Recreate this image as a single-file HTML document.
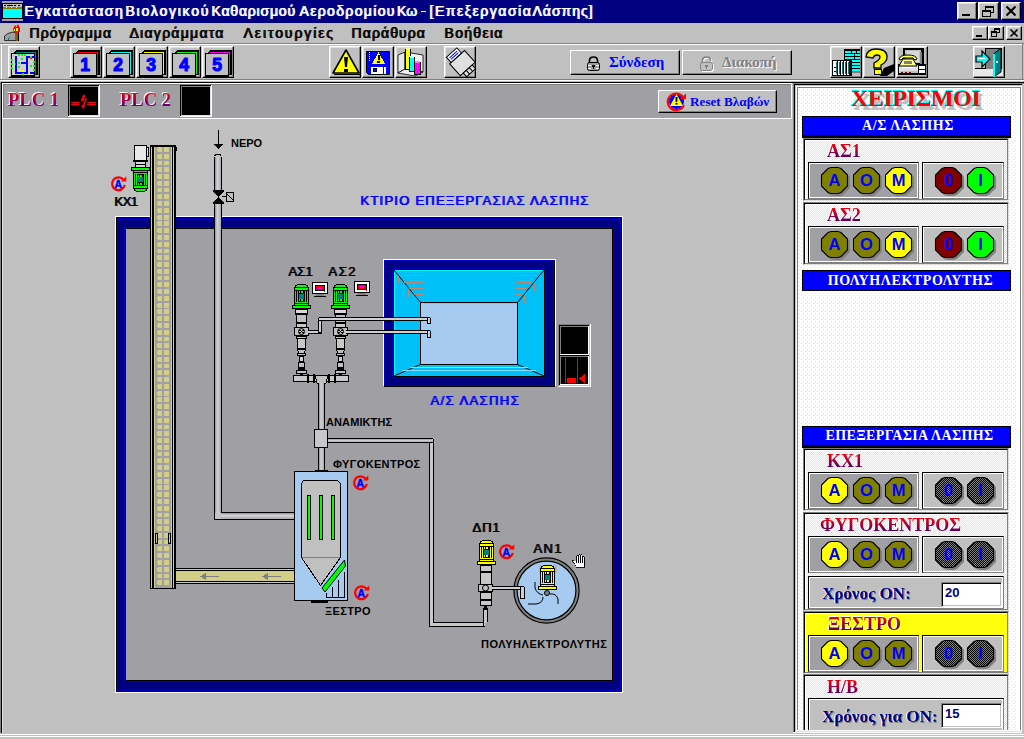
<!DOCTYPE html>
<html><head><meta charset="utf-8"><style>
*{margin:0;padding:0;box-sizing:border-box}
html,body{width:1024px;height:739px;overflow:hidden;background:#c0c0c0;font-family:"Liberation Sans",sans-serif;position:relative}
.a{position:absolute}
svg{position:absolute;overflow:visible}
.cap{position:absolute;background:#c0c0c0;border:1px solid;border-color:#fff #000 #000 #fff;box-shadow:inset -1px -1px #808080,inset 1px 1px #dfdfdf}
.tb{position:absolute;top:46px;width:32px;height:32px;background:#c0c0c0;border:1px solid;border-color:#fff #000 #000 #fff;box-shadow:inset -1px -1px #808080,inset 1px 1px #dfdfdf}
.mi{position:absolute;top:25px;font-size:14px;line-height:16px;color:#000;text-shadow:1px 0 0 #000;white-space:nowrap}
.yd{background-color:#fff;background-image:conic-gradient(at 1px 1px,transparent 75%,#ff0 75%),conic-gradient(at 1px 1px,transparent 75%,#ff0 75%);background-size:4px 4px,4px 4px;background-position:0 0,2px 2px}
.yb{background-color:#fff;background-image:conic-gradient(at 1px 1px,transparent 75%,#ff0 75%),conic-gradient(at 1px 1px,transparent 75%,#ff0 75%);background-size:2px 2px,2px 2px;background-position:0 0,1px 1px}
.hdr{position:absolute;left:802px;width:209px;background:#0000ff;border:1px solid #000;color:#fff;font-family:"Liberation Serif",serif;font-weight:bold;font-size:14px;text-align:center;white-space:nowrap}
.gb{position:absolute;left:803px;width:206px;border:1px solid;border-color:#808080 #dfdfdf #dfdfdf #808080}
.gbi{position:absolute;left:0;top:0;right:0;bottom:0;border:1px solid;border-color:#000 #808080 #808080 #000;box-shadow:inset 1px 1px #fff}
.bx{position:absolute;border:1px solid;border-color:#000 #808080 #808080 #000;box-shadow:inset 1px 1px #fff,inset -1px -1px #fff}
.lbl{position:absolute;font-family:"Liberation Serif",serif;font-weight:bold;font-size:18px;line-height:20px;white-space:nowrap;color:transparent;background:linear-gradient(#ff0000 0%,#d00020 32%,#800050 62%,#300060 100%);-webkit-background-clip:text;background-clip:text;filter:drop-shadow(-1px -1px 0 #fff)}
.ntx{position:absolute;font-family:"Liberation Serif",serif;font-weight:bold;font-size:17px;line-height:20px;color:#000080;white-space:nowrap;text-shadow:-1px 0 0 #fff,1px 1px 0 #808080}
.tbox{position:absolute;background:#fff;border:1px solid;border-color:#808080 #fff #fff #808080;box-shadow:inset 1px 1px #000,inset -1px -1px #c0c0c0;font-weight:bold;font-size:13px;color:#000080;padding-left:3px;line-height:20px}
.dt{position:absolute;font-size:11px;font-weight:bold;color:#000;white-space:nowrap;line-height:12px}
</style></head><body>
<div class="a" style="left:0;top:0;width:1024px;height:23px;background:#000080"></div><svg class="a" style="left:2px;top:1px" width="21" height="21" viewBox="0 0 21 21" shape-rendering="crispEdges" ><rect x="0" y="0" width="21" height="2" fill="#a0a0a0" /><rect x="0" y="2" width="21" height="16" fill="#000" /><rect x="1" y="3" width="19" height="3" fill="#c0c0c0" /><rect x="2" y="4" width="2" height="1" fill="#000" /><rect x="5" y="4" width="6" height="1" fill="#000" /><rect x="12" y="4" width="2" height="1" fill="#000" /><rect x="16" y="4" width="2" height="1" fill="#000" /><rect x="1" y="6" width="19" height="2" fill="#808000" /><rect x="4" y="6" width="1" height="1" fill="#ff0" /><rect x="9" y="6" width="1" height="1" fill="#ff0" /><rect x="14" y="6" width="1" height="1" fill="#ff0" /><rect x="1" y="8" width="19" height="9" fill="#00ffff" /><rect x="0" y="18" width="21" height="2" fill="#a0a0a0" /></svg><div class="a" style="left:24px;top:3px;font-size:14px;letter-spacing:1.5px;color:#fff;text-shadow:1px 0 0 #fff;white-space:nowrap;line-height:16px">Εγκατάσταση</div><div class="a" style="left:125px;top:3px;font-size:14px;letter-spacing:1.78px;color:#fff;text-shadow:1px 0 0 #fff;white-space:nowrap;line-height:16px">Βιολογικού</div><div class="a" style="left:211px;top:3px;font-size:14px;letter-spacing:0.8px;color:#fff;text-shadow:1px 0 0 #fff;white-space:nowrap;line-height:16px">Καθαρισμού</div><div class="a" style="left:299px;top:3px;font-size:14px;letter-spacing:1.35px;color:#fff;text-shadow:1px 0 0 #fff;white-space:nowrap;line-height:16px">Αεροδρομίου</div><div class="a" style="left:396.5px;top:3px;font-size:14px;letter-spacing:0.2px;color:#fff;text-shadow:1px 0 0 #fff;white-space:nowrap;line-height:16px">Κω</div><div class="a" style="left:429px;top:3px;font-size:14px;letter-spacing:1.52px;color:#fff;text-shadow:1px 0 0 #fff;white-space:nowrap;line-height:16px">[Επεξεργασία</div><div class="a" style="left:532px;top:3px;font-size:14px;letter-spacing:1.0px;color:#fff;text-shadow:1px 0 0 #fff;white-space:nowrap;line-height:16px">Λάσπης]</div><div class="a" style="left:421px;top:11px;width:5px;height:1px;background:#fff"></div><div class="cap" style="left:957px;top:2px;width:20px;height:18px"></div><div class="cap" style="left:978px;top:2px;width:21px;height:18px"></div><div class="cap" style="left:1001px;top:2px;width:20px;height:18px"></div><svg class="a" style="left:957px;top:2px" width="21" height="19" viewBox="0 0 21 19" shape-rendering="crispEdges" ><rect x="5" y="12" width="8" height="2" fill="#000" /></svg><svg class="a" style="left:978px;top:2px" width="22" height="19" viewBox="0 0 22 19" shape-rendering="crispEdges" ><rect x="7" y="4" width="9" height="7" fill="#000" /><rect x="8" y="6" width="7" height="4" fill="#c0c0c0" /><rect x="4" y="8" width="9" height="7" fill="#000" /><rect x="5" y="10" width="7" height="4" fill="#c0c0c0" /></svg><svg class="a" style="left:1001px;top:2px" width="21" height="19" viewBox="0 0 21 19" shape-rendering="crispEdges" ><path d="M5.5,4.5 L14.5,13.5 M14.5,4.5 L5.5,13.5" stroke="#000" stroke-width="2" shape-rendering="auto"/></svg><div class="mi" style="left:29px;letter-spacing:1.05px">Πρόγραμμα</div><div class="mi" style="left:129px;letter-spacing:1.27px">Διαγράμματα</div><div class="mi" style="left:243px;letter-spacing:1.9px">Λειτουργίες</div><div class="mi" style="left:351px;letter-spacing:1.1px">Παράθυρα</div><div class="mi" style="left:444px;letter-spacing:1.3px">Βοήθεια</div><svg class="a" style="left:4px;top:24px" width="17" height="17" viewBox="0 0 17 17" shape-rendering="crispEdges" ><path d="M0.5,15.5 L0.5,12 L4,9.5 L9,8 L12,9 L12,16.5 L0.5,16.5 Z" fill="#a0a0a0" stroke="#202020" stroke-width="0.9" shape-rendering="auto"/><rect x="4" y="14" width="1" height="2" fill="#008080" /><rect x="5" y="13" width="1" height="1" fill="#008080" /><rect x="12" y="6" width="2" height="11" fill="#806000" /><rect x="14" y="6" width="1" height="11" fill="#000" /><path d="M9,5 L11,1 L12.5,3 L14,0 L16,4 L16,8 L13,9 L10,8 Z" fill="#ff0000" shape-rendering="auto"/><rect x="12" y="4" width="2" height="3" fill="#ffff00" /><rect x="10" y="5" width="1" height="2" fill="#ffff00" /></svg><div class="cap" style="left:972px;top:26px;width:16px;height:14px"></div><div class="cap" style="left:988px;top:26px;width:16px;height:14px"></div><div class="cap" style="left:1006px;top:26px;width:16px;height:14px"></div><svg class="a" style="left:972px;top:26px" width="16" height="14" viewBox="0 0 16 14" shape-rendering="crispEdges" ><rect x="4" y="9" width="6" height="2" fill="#000" /></svg><svg class="a" style="left:988px;top:26px" width="17" height="14" viewBox="0 0 17 14" shape-rendering="crispEdges" ><rect x="6" y="2" width="6" height="5" fill="#000" /><rect x="7" y="4" width="4" height="2" fill="#c0c0c0" /><rect x="3" y="5" width="6" height="6" fill="#000" /><rect x="4" y="7" width="4" height="3" fill="#c0c0c0" /></svg><svg class="a" style="left:1006px;top:26px" width="16" height="14" viewBox="0 0 16 14" shape-rendering="crispEdges" ><path d="M4.5,3.5 L11.5,10.5 M11.5,3.5 L4.5,10.5" stroke="#000" stroke-width="1.6" shape-rendering="auto"/></svg><div class="a" style="left:0;top:43px;width:1024px;height:1px;background:#808080"></div><div class="a" style="left:0;top:44px;width:1023px;height:1px;background:#fff"></div><div class="a" style="left:0;top:79px;width:1024px;height:1px;background:#808080"></div><div class="a" style="left:0;top:80px;width:1024px;height:1px;background:#fff"></div><div class="tb" style="left:8px"></div><div class="tb" style="left:70px"></div><div class="tb" style="left:103px"></div><div class="tb" style="left:136px"></div><div class="tb" style="left:169px"></div><div class="tb" style="left:202px"></div><div class="tb" style="left:329px"></div><div class="tb" style="left:362px"></div><div class="tb" style="left:395px"></div><div class="tb" style="left:444px"></div><div class="tb" style="left:830px"></div><div class="tb" style="left:863px"></div><div class="tb" style="left:896px"></div><div class="tb" style="left:973px"></div><div class="a" style="left:570px;top:50px;width:110px;height:25px;background:#c0c0c0;border:1px solid;border-color:#fff #000 #000 #fff;box-shadow:inset -1px -1px #808080"></div><div class="a" style="left:682px;top:50px;width:110px;height:25px;background:#c0c0c0;border:1px solid;border-color:#fff #000 #000 #fff;box-shadow:inset -1px -1px #808080"></div><div class="a" style="left:609px;top:52px;font-family:Liberation Serif;font-weight:bold;font-size:15px;line-height:20px;color:#0000ff">Σύνδεση</div><div class="a" style="left:722px;top:52px;font-family:Liberation Serif;font-weight:bold;font-size:15px;line-height:20px;color:#808080;text-shadow:1px 1px 0 #fff">Διακοπή</div><svg class="a" style="left:70px;top:46px" width="32" height="32" viewBox="0 0 32 32" shape-rendering="crispEdges" ><path d="M8,4 L30,4 L30,29 L6,29 L6,6 Z" fill="#000"/><rect x="8" y="6" width="20" height="1" fill="#ff0000" /><rect x="27" y="6" width="1" height="22" fill="#ff0000" /><rect x="3" y="7" width="24" height="24" fill="#000" /><rect x="4" y="8" width="22" height="21" fill="#c0c0c0" /><text x="15" y="25" text-anchor="middle" font-family="Liberation Sans" font-weight="bold" font-size="17.5" fill="#0000ff" stroke="#0000ff" stroke-width="1.1" stroke-linejoin="round" shape-rendering="auto">1</text></svg><svg class="a" style="left:103px;top:46px" width="32" height="32" viewBox="0 0 32 32" shape-rendering="crispEdges" ><path d="M8,4 L30,4 L30,29 L6,29 L6,6 Z" fill="#000"/><rect x="8" y="6" width="20" height="1" fill="#00ffff" /><rect x="27" y="6" width="1" height="22" fill="#00ffff" /><rect x="3" y="7" width="24" height="24" fill="#000" /><rect x="4" y="8" width="22" height="21" fill="#c0c0c0" /><text x="15" y="25" text-anchor="middle" font-family="Liberation Sans" font-weight="bold" font-size="17.5" fill="#0000ff" stroke="#0000ff" stroke-width="1.1" stroke-linejoin="round" shape-rendering="auto">2</text></svg><svg class="a" style="left:136px;top:46px" width="32" height="32" viewBox="0 0 32 32" shape-rendering="crispEdges" ><path d="M8,4 L30,4 L30,29 L6,29 L6,6 Z" fill="#000"/><rect x="8" y="6" width="20" height="1" fill="#ffff00" /><rect x="27" y="6" width="1" height="22" fill="#ffff00" /><rect x="3" y="7" width="24" height="24" fill="#000" /><rect x="4" y="8" width="22" height="21" fill="#c0c0c0" /><text x="15" y="25" text-anchor="middle" font-family="Liberation Sans" font-weight="bold" font-size="17.5" fill="#0000ff" stroke="#0000ff" stroke-width="1.1" stroke-linejoin="round" shape-rendering="auto">3</text></svg><svg class="a" style="left:169px;top:46px" width="32" height="32" viewBox="0 0 32 32" shape-rendering="crispEdges" ><path d="M8,4 L30,4 L30,29 L6,29 L6,6 Z" fill="#000"/><rect x="8" y="6" width="20" height="1" fill="#00ff00" /><rect x="27" y="6" width="1" height="22" fill="#00ff00" /><rect x="3" y="7" width="24" height="24" fill="#000" /><rect x="4" y="8" width="22" height="21" fill="#c0c0c0" /><text x="15" y="25" text-anchor="middle" font-family="Liberation Sans" font-weight="bold" font-size="17.5" fill="#0000ff" stroke="#0000ff" stroke-width="1.1" stroke-linejoin="round" shape-rendering="auto">4</text></svg><svg class="a" style="left:202px;top:46px" width="32" height="32" viewBox="0 0 32 32" shape-rendering="crispEdges" ><path d="M8,4 L30,4 L30,29 L6,29 L6,6 Z" fill="#000"/><rect x="8" y="6" width="20" height="1" fill="#ff00ff" /><rect x="27" y="6" width="1" height="22" fill="#ff00ff" /><rect x="3" y="7" width="24" height="24" fill="#000" /><rect x="4" y="8" width="22" height="21" fill="#c0c0c0" /><text x="15" y="25" text-anchor="middle" font-family="Liberation Sans" font-weight="bold" font-size="17.5" fill="#0000ff" stroke="#0000ff" stroke-width="1.1" stroke-linejoin="round" shape-rendering="auto">5</text></svg><svg class="a" style="left:8px;top:46px" width="32" height="32" viewBox="0 0 32 32" shape-rendering="crispEdges" ><path d="M8,4 L30,4 L30,29 L6,29 L6,6 Z" fill="#000"/><rect x="8" y="6" width="20" height="1" fill="#008080" /><rect x="27" y="6" width="1" height="22" fill="#008080" /><rect x="3" y="7" width="24" height="24" fill="#000" /><rect x="4" y="8" width="22" height="21" fill="#c0c0c0" /><rect x="4" y="8" width="22" height="21" fill="#d0d0d0" /><rect x="7" y="10" width="2" height="18" fill="#0000ff" /><rect x="7" y="26" width="12" height="2" fill="#0000ff" /><rect x="18" y="10" width="2" height="18" fill="#0000ff" /><rect x="18" y="10" width="9" height="2" fill="#0000ff" /><rect x="13" y="16" width="5" height="2" fill="#0000ff" /><rect x="22" y="26" width="4" height="2" fill="#0000ff" /><rect x="10" y="8" width="2" height="2" fill="#00ff00" /><rect x="13" y="8" width="2" height="2" fill="#00ff00" /><rect x="16" y="8" width="2" height="2" fill="#00ff00" /><rect x="13" y="12" width="2" height="2" fill="#00ff00" /><rect x="10" y="16" width="2" height="2" fill="#00ff00" /><rect x="10" y="20" width="2" height="2" fill="#00ff00" /><rect x="22" y="19" width="2" height="2" fill="#00ff00" /><rect x="25" y="15" width="2" height="2" fill="#00ff00" /><rect x="25" y="19" width="2" height="2" fill="#00ff00" /><rect x="25" y="23" width="2" height="2" fill="#00ff00" /><rect x="22" y="10" width="2" height="2" fill="#00ff00" /><rect x="3" y="13" width="2" height="2" fill="#00ff00" /><rect x="3" y="17" width="2" height="2" fill="#00ff00" /><rect x="3" y="21" width="2" height="2" fill="#00ff00" /><rect x="14" y="27" width="2" height="2" fill="#00ff00" /><rect x="11" y="24" width="2" height="2" fill="#ffff00" /><rect x="14" y="24" width="2" height="2" fill="#ffff00" /><rect x="20" y="27" width="2" height="2" fill="#ffff00" /><rect x="22" y="12" width="2" height="1" fill="#ff0000" /><rect x="7" y="17" width="1" height="2" fill="#ff0000" /><rect x="14" y="29" width="2" height="1" fill="#ff0000" /></svg><svg class="a" style="left:329px;top:46px" width="32" height="32" viewBox="0 0 32 32" shape-rendering="crispEdges" ><path d="M17,4 L30,27 L4,27 Z" fill="#ffff00" stroke="#000" stroke-width="1.6" stroke-linejoin="round" shape-rendering="auto"/><rect x="5" y="28" width="26" height="1" fill="#000" /><path d="M15,11 L19,11 L18,21 L16,21 Z" fill="#000" shape-rendering="auto"/><rect x="15" y="23" width="4" height="3" fill="#000" /></svg><svg class="a" style="left:362px;top:46px" width="32" height="32" viewBox="0 0 32 32" shape-rendering="crispEdges" ><path d="M4.5,5.5 L27.5,5.5 L27.5,28.5 L6.5,28.5 L4.5,26.5 Z" fill="#0000ff" stroke="#000" shape-rendering="auto"/><path d="M16.5,6 L23,18 L10,18 Z" fill="#ffff00"/><rect x="16" y="9" width="2" height="5" fill="#000" /><rect x="15" y="15" width="3" height="2" fill="#000" /><rect x="9" y="21" width="15" height="7" fill="#fff" /><rect x="11" y="22" width="4" height="4" fill="#000" /><rect x="12" y="23" width="2" height="2" fill="#0000ff" /><rect x="21" y="21" width="1" height="7" fill="#0000ff" /><rect x="7" y="6" width="1" height="1" fill="#fff" /><rect x="7" y="8" width="1" height="1" fill="#fff" /><rect x="7" y="10" width="1" height="1" fill="#fff" /><rect x="7" y="12" width="1" height="1" fill="#fff" /><rect x="7" y="14" width="1" height="1" fill="#fff" /><rect x="25" y="7" width="1" height="2" fill="#000" /></svg><svg class="a" style="left:395px;top:46px" width="32" height="32" viewBox="0 0 32 32" shape-rendering="crispEdges" ><path d="M3,9 L10,6 L10,23 L3,27 Z" fill="#e8e8e8" stroke="#000" stroke-width="0.8" shape-rendering="auto"/><path d="M10,6 L28,9 L28,26 L10,23 Z" fill="#f4f4f4" stroke="#000" stroke-width="0.8" shape-rendering="auto"/><path d="M3,27 L10,23 L28,26 L20,30 Z" fill="#f0f0f0" stroke="#000" stroke-width="0.8" shape-rendering="auto"/><rect x="10" y="3" width="6" height="21" fill="#000" /><rect x="11" y="3" width="4" height="20" fill="#ffff00" /><rect x="11" y="2" width="4" height="2" fill="#ffffa0" /><rect x="14" y="11" width="6" height="15" fill="#000" /><rect x="15" y="11" width="4" height="14" fill="#00ffff" /><rect x="15" y="10" width="4" height="2" fill="#c0ffff" /><rect x="19" y="16" width="7" height="13" fill="#000" /><rect x="20" y="16" width="5" height="12" fill="#ff00ff" /><rect x="20" y="15" width="5" height="2" fill="#ff80ff" /></svg><svg class="a" style="left:444px;top:46px" width="32" height="32" viewBox="0 0 32 32" shape-rendering="crispEdges" ><g transform="rotate(-42 17 17)" shape-rendering="auto"><rect x="8" y="10" width="20" height="16" fill="#e0e0e0" stroke="#000"/><rect x="10" y="3" width="14" height="7" fill="#fff" stroke="#000"/><line x1="12" y1="5.5" x2="22" y2="5.5" stroke="#0000ff"/><line x1="12" y1="7.5" x2="22" y2="7.5" stroke="#0000ff"/><rect x="12" y="26" width="12" height="5" fill="#e0e0e0" stroke="#000"/><line x1="16" y1="26" x2="16" y2="31" stroke="#000"/><line x1="20" y1="26" x2="20" y2="31" stroke="#000"/></g></svg><svg class="a" style="left:830px;top:46px" width="32" height="32" viewBox="0 0 32 32" shape-rendering="crispEdges" ><rect x="14" y="3" width="16" height="22" fill="#000" /><rect x="16" y="24" width="15" height="3" fill="#808080" /><rect x="15" y="5" width="6" height="2" fill="#00ffff" /><rect x="22" y="5" width="4" height="2" fill="#00ffff" /><rect x="27" y="5" width="3" height="2" fill="#00ffff" /><rect x="15" y="8" width="9" height="2" fill="#00ffff" /><rect x="25" y="8" width="5" height="2" fill="#00ffff" /><rect x="15" y="11" width="9" height="2" fill="#00ffff" /><rect x="25" y="11" width="5" height="2" fill="#00ffff" /><rect x="15" y="14" width="15" height="2" fill="#00ffff" /><rect x="15" y="17" width="15" height="2" fill="#00ffff" /><rect x="15" y="20" width="15" height="2" fill="#00ffff" /><rect x="15" y="23" width="15" height="2" fill="#00ffff" /><rect x="2" y="14" width="20" height="16" fill="#000" /><rect x="3" y="15" width="4" height="14" fill="#fff" /><rect x="6" y="16" width="1" height="12" fill="#008080" /><rect x="8" y="15" width="2" height="14" fill="#fff" /><rect x="9" y="16" width="1" height="12" fill="#008080" /><rect x="11" y="15" width="2" height="14" fill="#fff" /><rect x="12" y="16" width="1" height="12" fill="#008080" /><rect x="14" y="15" width="2" height="14" fill="#fff" /><rect x="15" y="16" width="1" height="12" fill="#008080" /><rect x="17" y="15" width="2" height="14" fill="#fff" /><rect x="18" y="16" width="1" height="12" fill="#008080" /><rect x="4" y="21" width="2" height="1" fill="#000" /><rect x="4" y="25" width="2" height="1" fill="#000" /></svg><svg class="a" style="left:863px;top:46px" width="32" height="32" viewBox="0 0 32 32" shape-rendering="crispEdges" ><path d="M17,30 L21,22 L31,18 L31,25 L24,30 Z" fill="#000" shape-rendering="auto"/><path d="M3,11 Q4,3 13,3 Q24,3 24,11 Q24,16 18,19 L18,22 L11,22 L11,17 Q17,14 17,11 Q17,9 14,9 Q11,9 10,12 Z" fill="#ffff00" stroke="#000" stroke-width="1.3" shape-rendering="auto"/><rect x="11" y="23" width="8" height="6" fill="#000" /><rect x="12" y="24" width="6" height="4" fill="#ffff00" /></svg><svg class="a" style="left:896px;top:46px" width="32" height="32" viewBox="0 0 32 32" shape-rendering="crispEdges" ><rect x="7" y="2" width="21" height="18" fill="#000" /><rect x="9" y="4" width="16" height="13" fill="#c0c0c0" /><rect x="11" y="5" width="12" height="11" fill="#d8d8d8" /><rect x="24" y="6" width="2" height="12" fill="#808080" /><rect x="2" y="18" width="28" height="11" fill="#000" /><rect x="3" y="19" width="19" height="8" fill="#e0e0e0" /><rect x="4" y="25" width="18" height="2" fill="#c0c0c0" /><rect x="5" y="26" width="2" height="1" fill="#800000" /><rect x="9" y="26" width="2" height="1" fill="#800000" /><rect x="13" y="26" width="2" height="1" fill="#800000" /><rect x="23" y="20" width="6" height="3" fill="#fff" /><rect x="23" y="24" width="6" height="3" fill="#fff" /><path d="M3,13 Q4,9 12,9 Q20,9 21,13 L19,14 L17,12 L7,12 L5,14 Z" fill="#ffff60" stroke="#000" shape-rendering="auto"/><path d="M7,13 L17,13 L21,20 L3,20 Z" fill="#ffff80" stroke="#000" shape-rendering="auto"/><rect x="8" y="15" width="8" height="3" fill="#808080" /><rect x="6" y="21" width="13" height="1" fill="#fff" /></svg><svg class="a" style="left:973px;top:46px" width="32" height="32" viewBox="0 0 32 32" shape-rendering="crispEdges" ><rect x="12" y="2" width="17" height="22" fill="#000" /><rect x="13" y="3" width="15" height="20" fill="#808080" /><rect x="2" y="23" width="28" height="7" fill="#e8e8e8" /><rect x="2" y="22" width="10" height="1" fill="#000" /><path d="M20.5,8 L28,2 L28,26 L20.5,31 Z" fill="#008080" stroke="#000" shape-rendering="auto"/><rect x="20" y="8" width="2" height="23" fill="#00ffff" /><rect x="23" y="15" width="2" height="2" fill="#fff" /><path d="M3,10 L9,10 L9,5 L17,13 L9,21 L9,16 L3,16 Z" fill="#00ffff" stroke="#000" stroke-width="1.2" shape-rendering="auto"/><rect x="5" y="12" width="8" height="1" fill="#fff" /></svg><svg class="a" style="left:586px;top:56px" width="15" height="15" viewBox="0 0 15 15" shape-rendering="crispEdges" ><path d="M3.5,7 L3.5,4.5 Q3.5,1 7.5,1 Q11.5,1 11.5,4.5 L11.5,7" fill="none" stroke="#000" stroke-width="1.6" shape-rendering="auto"/><rect x="1.5" y="6.5" width="12" height="8" rx="2" fill="#a0a0a0" stroke="#000" shape-rendering="auto"/><rect x="6" y="9" width="3" height="2" fill="#000" /><rect x="7" y="10" width="1" height="3" fill="#000" /><rect x="2" y="9" width="3" height="1" fill="#fff" /><rect x="10" y="9" width="3" height="1" fill="#fff" /><rect x="2" y="12" width="3" height="1" fill="#fff" /><rect x="10" y="12" width="3" height="1" fill="#fff" /></svg><svg class="a" style="left:699px;top:56px;filter:drop-shadow(1px 1px 0 #fff)" width="15" height="15" viewBox="0 0 15 15" shape-rendering="crispEdges" style="filter:drop-shadow(1px 1px 0 #fff)"><path d="M3.5,7 L3.5,4.5 Q3.5,1 7.5,1 Q11.5,1 11.5,4.5 L11.5,5" fill="none" stroke="#808080" stroke-width="1.6" shape-rendering="auto"/><rect x="1.5" y="6.5" width="12" height="8" rx="2" fill="#c0c0c0" stroke="#808080" shape-rendering="auto"/><rect x="6" y="9" width="3" height="2" fill="#808080" /><rect x="7" y="10" width="1" height="3" fill="#808080" /></svg><div class="a" style="left:0;top:81px;width:1024px;height:1px;background:#c0c0c0"></div><div class="a" style="left:0;top:82px;width:1px;height:651px;background:#808080"></div><div class="a" style="left:1px;top:82px;width:1023px;height:1px;background:#000"></div><div class="a" style="left:1px;top:82px;width:1px;height:651px;background:#000"></div><div class="a" style="left:0;top:734px;width:1024px;height:1px;background:#fff"></div><div class="a" style="left:0;top:736px;width:1024px;height:1px;background:#fff"></div><div class="a" style="left:2px;top:83px;width:1px;height:650px;background:#dfdfdf"></div><div class="a" style="left:2px;top:83px;width:790px;height:36px;background:#a0a0a4;border:1px solid #fff"></div><div class="a" style="left:3px;top:84px;width:788px;height:1px;background:#808080"></div><div class="a" style="left:3px;top:84px;width:1px;height:34px;background:#808080"></div><div class="a" style="left:1px;top:45px;width:1px;height:34px;background:#fff"></div><div class="a" style="left:8px;top:88.5px;font-family:Liberation Serif;font-weight:bold;font-size:18.5px;line-height:22px;white-space:nowrap;background:linear-gradient(#ff0000 0%,#d00020 30%,#800070 62%,#300080 100%);-webkit-background-clip:text;background-clip:text;color:transparent;filter:drop-shadow(-1px -1px 0 #fff)">PLC 1</div><div class="a" style="left:120px;top:88.5px;font-family:Liberation Serif;font-weight:bold;font-size:18.5px;line-height:22px;white-space:nowrap;background:linear-gradient(#ff0000 0%,#d00020 30%,#800070 62%,#300080 100%);-webkit-background-clip:text;background-clip:text;color:transparent;filter:drop-shadow(-1px -1px 0 #fff)">PLC 2</div><svg class="a" style="left:68px;top:85px" width="32" height="32" viewBox="0 0 32 32" shape-rendering="crispEdges" ><rect x="0" y="0" width="32" height="32" fill="#fff" /><rect x="0" y="0" width="31" height="31" fill="#000" /><rect x="1" y="1" width="30" height="30" fill="#dfdfdf" /><rect x="1" y="1" width="29" height="29" fill="#808080" /><rect x="2" y="2" width="28" height="28" fill="#000" /><rect x="3" y="17" width="8" height="1" fill="#ff0000" /><rect x="3" y="19" width="8" height="1" fill="#ff0000" /><rect x="19" y="17" width="9" height="1" fill="#ff0000" /><rect x="19" y="19" width="9" height="1" fill="#ff0000" /><path d="M15.5,9.5 L12.5,15.5 L15,16.5 L17.5,14 L14.5,20 L13,19.5 L14.5,24 L18,20 L16.5,19.8 L19,14 L18,13 L16,14.5 L17.5,10 Z" fill="#ff0000" shape-rendering="auto"/></svg><svg class="a" style="left:180px;top:85px" width="32" height="32" viewBox="0 0 32 32" shape-rendering="crispEdges" ><rect x="0" y="0" width="32" height="32" fill="#fff" /><rect x="0" y="0" width="31" height="31" fill="#000" /><rect x="1" y="1" width="30" height="30" fill="#dfdfdf" /><rect x="1" y="1" width="29" height="29" fill="#808080" /><rect x="2" y="2" width="28" height="28" fill="#000" /></svg><div class="a" style="left:658px;top:90px;width:119px;height:23px;background:#c0c0c0;border:1px solid;border-color:#fff #000 #000 #fff;box-shadow:inset -1px -1px #808080"></div><svg class="a" style="left:667px;top:92px" width="20" height="20" viewBox="0 0 20 20" shape-rendering="crispEdges" ><g shape-rendering="auto"><circle cx="9.5" cy="9.5" r="7.5" fill="#0000ff"/><path d="M16,5.2 A8.3,8.3 0 1 0 16.8,13" fill="none" stroke="#ff0000" stroke-width="2.2"/><path d="M13,7 L19,7 L19,1.5 Z" fill="#ff0000"/><path d="M9.5,2 L16,14 L3,14 Z" fill="#ffff00"/><path d="M8.5,5 L10.5,5 L10.3,10 L8.7,10 Z" fill="#000"/><rect x="8.5" y="11" width="2" height="1.6" fill="#000"/></g></svg><div class="a" style="left:690px;top:93px;font-family:Liberation Serif;font-weight:bold;font-size:13.2px;line-height:18px;color:#0000ff;white-space:nowrap">Reset Βλαβών</div><div class="a" style="left:115px;top:216px;width:508px;height:477px;border:1px solid #fff;background:#000"></div><div class="a" style="left:117px;top:218px;width:504px;height:473px;background:#000080;border:1px solid #0000c8"></div><div class="a" style="left:124px;top:227px;width:490px;height:455px;border:1px solid #0000c8"></div><div class="a" style="left:125px;top:228px;width:488px;height:453px;background:#000"></div><div class="a" style="left:126px;top:229px;width:486px;height:451px;background:#a0a0a4"></div><svg class="a" style="left:0;top:0" width="1024" height="739" viewBox="0 0 1024 739" shape-rendering="crispEdges"><defs>
<linearGradient id="pipeV" x1="0" x2="1" y1="0" y2="0"><stop offset="0" stop-color="#909098"/><stop offset="0.4" stop-color="#d4d4d8"/><stop offset="1" stop-color="#a8a8b0"/></linearGradient>
<linearGradient id="pipeH" x1="0" x2="0" y1="0" y2="1"><stop offset="0" stop-color="#909098"/><stop offset="0.4" stop-color="#d4d4d8"/><stop offset="1" stop-color="#a8a8b0"/></linearGradient>
</defs><rect x="150" y="146" width="26" height="443" fill="#000" />
<rect x="151" y="146" width="1" height="442" fill="#d2ce88" />
<rect x="154" y="146" width="1" height="442" fill="#d2ce88" />
<rect x="155" y="146" width="16" height="442" fill="#a0a0a4" />
<rect x="171" y="146" width="1" height="442" fill="#d2ce88" />
<rect x="173" y="146" width="1" height="442" fill="#d2ce88" />
<rect x="158" y="147" width="4" height="5" fill="#d2ce88" />
<rect x="164" y="147" width="5" height="5" fill="#d2ce88" />
<rect x="157" y="148" width="1" height="3" fill="#d2ce88" />
<rect x="158" y="154" width="4" height="5" fill="#d2ce88" />
<rect x="164" y="154" width="5" height="5" fill="#d2ce88" />
<rect x="157" y="155" width="1" height="3" fill="#d2ce88" />
<rect x="158" y="161" width="4" height="4" fill="#d2ce88" />
<rect x="164" y="161" width="5" height="4" fill="#d2ce88" />
<rect x="157" y="162" width="1" height="2" fill="#d2ce88" />
<rect x="158" y="167" width="4" height="5" fill="#d2ce88" />
<rect x="164" y="167" width="5" height="5" fill="#d2ce88" />
<rect x="157" y="168" width="1" height="3" fill="#d2ce88" />
<rect x="158" y="174" width="4" height="5" fill="#d2ce88" />
<rect x="164" y="174" width="5" height="5" fill="#d2ce88" />
<rect x="157" y="175" width="1" height="3" fill="#d2ce88" />
<rect x="158" y="181" width="4" height="5" fill="#d2ce88" />
<rect x="164" y="181" width="5" height="5" fill="#d2ce88" />
<rect x="157" y="182" width="1" height="3" fill="#d2ce88" />
<rect x="158" y="188" width="4" height="4" fill="#d2ce88" />
<rect x="164" y="188" width="5" height="4" fill="#d2ce88" />
<rect x="157" y="189" width="1" height="2" fill="#d2ce88" />
<rect x="158" y="194" width="4" height="5" fill="#d2ce88" />
<rect x="164" y="194" width="5" height="5" fill="#d2ce88" />
<rect x="157" y="195" width="1" height="3" fill="#d2ce88" />
<rect x="158" y="201" width="4" height="5" fill="#d2ce88" />
<rect x="164" y="201" width="5" height="5" fill="#d2ce88" />
<rect x="157" y="202" width="1" height="3" fill="#d2ce88" />
<rect x="158" y="208" width="4" height="5" fill="#d2ce88" />
<rect x="164" y="208" width="5" height="5" fill="#d2ce88" />
<rect x="157" y="209" width="1" height="3" fill="#d2ce88" />
<rect x="158" y="215" width="4" height="5" fill="#d2ce88" />
<rect x="164" y="215" width="5" height="5" fill="#d2ce88" />
<rect x="157" y="216" width="1" height="3" fill="#d2ce88" />
<rect x="158" y="221" width="4" height="5" fill="#d2ce88" />
<rect x="164" y="221" width="5" height="5" fill="#d2ce88" />
<rect x="157" y="222" width="1" height="3" fill="#d2ce88" />
<rect x="158" y="228" width="4" height="5" fill="#d2ce88" />
<rect x="164" y="228" width="5" height="5" fill="#d2ce88" />
<rect x="157" y="229" width="1" height="3" fill="#d2ce88" />
<rect x="158" y="235" width="4" height="5" fill="#d2ce88" />
<rect x="164" y="235" width="5" height="5" fill="#d2ce88" />
<rect x="157" y="236" width="1" height="3" fill="#d2ce88" />
<rect x="158" y="242" width="4" height="5" fill="#d2ce88" />
<rect x="164" y="242" width="5" height="5" fill="#d2ce88" />
<rect x="157" y="243" width="1" height="3" fill="#d2ce88" />
<rect x="158" y="249" width="4" height="4" fill="#d2ce88" />
<rect x="164" y="249" width="5" height="4" fill="#d2ce88" />
<rect x="157" y="250" width="1" height="2" fill="#d2ce88" />
<rect x="158" y="255" width="4" height="5" fill="#d2ce88" />
<rect x="164" y="255" width="5" height="5" fill="#d2ce88" />
<rect x="157" y="256" width="1" height="3" fill="#d2ce88" />
<rect x="158" y="262" width="4" height="5" fill="#d2ce88" />
<rect x="164" y="262" width="5" height="5" fill="#d2ce88" />
<rect x="157" y="263" width="1" height="3" fill="#d2ce88" />
<rect x="158" y="269" width="4" height="5" fill="#d2ce88" />
<rect x="164" y="269" width="5" height="5" fill="#d2ce88" />
<rect x="157" y="270" width="1" height="3" fill="#d2ce88" />
<rect x="158" y="276" width="4" height="4" fill="#d2ce88" />
<rect x="164" y="276" width="5" height="4" fill="#d2ce88" />
<rect x="157" y="277" width="1" height="2" fill="#d2ce88" />
<rect x="158" y="282" width="4" height="5" fill="#d2ce88" />
<rect x="164" y="282" width="5" height="5" fill="#d2ce88" />
<rect x="157" y="283" width="1" height="3" fill="#d2ce88" />
<rect x="158" y="289" width="4" height="5" fill="#d2ce88" />
<rect x="164" y="289" width="5" height="5" fill="#d2ce88" />
<rect x="157" y="290" width="1" height="3" fill="#d2ce88" />
<rect x="158" y="296" width="4" height="5" fill="#d2ce88" />
<rect x="164" y="296" width="5" height="5" fill="#d2ce88" />
<rect x="157" y="297" width="1" height="3" fill="#d2ce88" />
<rect x="158" y="303" width="4" height="5" fill="#d2ce88" />
<rect x="164" y="303" width="5" height="5" fill="#d2ce88" />
<rect x="157" y="304" width="1" height="3" fill="#d2ce88" />
<rect x="158" y="309" width="4" height="5" fill="#d2ce88" />
<rect x="164" y="309" width="5" height="5" fill="#d2ce88" />
<rect x="157" y="310" width="1" height="3" fill="#d2ce88" />
<rect x="158" y="316" width="4" height="5" fill="#d2ce88" />
<rect x="164" y="316" width="5" height="5" fill="#d2ce88" />
<rect x="157" y="317" width="1" height="3" fill="#d2ce88" />
<rect x="158" y="323" width="4" height="5" fill="#d2ce88" />
<rect x="164" y="323" width="5" height="5" fill="#d2ce88" />
<rect x="157" y="324" width="1" height="3" fill="#d2ce88" />
<rect x="158" y="330" width="4" height="5" fill="#d2ce88" />
<rect x="164" y="330" width="5" height="5" fill="#d2ce88" />
<rect x="157" y="331" width="1" height="3" fill="#d2ce88" />
<rect x="158" y="337" width="4" height="4" fill="#d2ce88" />
<rect x="164" y="337" width="5" height="4" fill="#d2ce88" />
<rect x="157" y="338" width="1" height="2" fill="#d2ce88" />
<rect x="158" y="343" width="4" height="5" fill="#d2ce88" />
<rect x="164" y="343" width="5" height="5" fill="#d2ce88" />
<rect x="157" y="344" width="1" height="3" fill="#d2ce88" />
<rect x="158" y="350" width="4" height="5" fill="#d2ce88" />
<rect x="164" y="350" width="5" height="5" fill="#d2ce88" />
<rect x="157" y="351" width="1" height="3" fill="#d2ce88" />
<rect x="158" y="357" width="4" height="5" fill="#d2ce88" />
<rect x="164" y="357" width="5" height="5" fill="#d2ce88" />
<rect x="157" y="358" width="1" height="3" fill="#d2ce88" />
<rect x="158" y="364" width="4" height="4" fill="#d2ce88" />
<rect x="164" y="364" width="5" height="4" fill="#d2ce88" />
<rect x="157" y="365" width="1" height="2" fill="#d2ce88" />
<rect x="158" y="370" width="4" height="5" fill="#d2ce88" />
<rect x="164" y="370" width="5" height="5" fill="#d2ce88" />
<rect x="157" y="371" width="1" height="3" fill="#d2ce88" />
<rect x="158" y="377" width="4" height="5" fill="#d2ce88" />
<rect x="164" y="377" width="5" height="5" fill="#d2ce88" />
<rect x="157" y="378" width="1" height="3" fill="#d2ce88" />
<rect x="158" y="384" width="4" height="5" fill="#d2ce88" />
<rect x="164" y="384" width="5" height="5" fill="#d2ce88" />
<rect x="157" y="385" width="1" height="3" fill="#d2ce88" />
<rect x="158" y="391" width="4" height="5" fill="#d2ce88" />
<rect x="164" y="391" width="5" height="5" fill="#d2ce88" />
<rect x="157" y="392" width="1" height="3" fill="#d2ce88" />
<rect x="158" y="397" width="4" height="5" fill="#d2ce88" />
<rect x="164" y="397" width="5" height="5" fill="#d2ce88" />
<rect x="157" y="398" width="1" height="3" fill="#d2ce88" />
<rect x="158" y="404" width="4" height="5" fill="#d2ce88" />
<rect x="164" y="404" width="5" height="5" fill="#d2ce88" />
<rect x="157" y="405" width="1" height="3" fill="#d2ce88" />
<rect x="158" y="411" width="4" height="5" fill="#d2ce88" />
<rect x="164" y="411" width="5" height="5" fill="#d2ce88" />
<rect x="157" y="412" width="1" height="3" fill="#d2ce88" />
<rect x="158" y="418" width="4" height="5" fill="#d2ce88" />
<rect x="164" y="418" width="5" height="5" fill="#d2ce88" />
<rect x="157" y="419" width="1" height="3" fill="#d2ce88" />
<rect x="158" y="425" width="4" height="4" fill="#d2ce88" />
<rect x="164" y="425" width="5" height="4" fill="#d2ce88" />
<rect x="157" y="426" width="1" height="2" fill="#d2ce88" />
<rect x="158" y="431" width="4" height="5" fill="#d2ce88" />
<rect x="164" y="431" width="5" height="5" fill="#d2ce88" />
<rect x="157" y="432" width="1" height="3" fill="#d2ce88" />
<rect x="158" y="438" width="4" height="5" fill="#d2ce88" />
<rect x="164" y="438" width="5" height="5" fill="#d2ce88" />
<rect x="157" y="439" width="1" height="3" fill="#d2ce88" />
<rect x="158" y="445" width="4" height="5" fill="#d2ce88" />
<rect x="164" y="445" width="5" height="5" fill="#d2ce88" />
<rect x="157" y="446" width="1" height="3" fill="#d2ce88" />
<rect x="158" y="452" width="4" height="4" fill="#d2ce88" />
<rect x="164" y="452" width="5" height="4" fill="#d2ce88" />
<rect x="157" y="453" width="1" height="2" fill="#d2ce88" />
<rect x="158" y="458" width="4" height="5" fill="#d2ce88" />
<rect x="164" y="458" width="5" height="5" fill="#d2ce88" />
<rect x="157" y="459" width="1" height="3" fill="#d2ce88" />
<rect x="158" y="465" width="4" height="5" fill="#d2ce88" />
<rect x="164" y="465" width="5" height="5" fill="#d2ce88" />
<rect x="157" y="466" width="1" height="3" fill="#d2ce88" />
<rect x="158" y="472" width="4" height="5" fill="#d2ce88" />
<rect x="164" y="472" width="5" height="5" fill="#d2ce88" />
<rect x="157" y="473" width="1" height="3" fill="#d2ce88" />
<rect x="158" y="479" width="4" height="5" fill="#d2ce88" />
<rect x="164" y="479" width="5" height="5" fill="#d2ce88" />
<rect x="157" y="480" width="1" height="3" fill="#d2ce88" />
<rect x="158" y="485" width="4" height="5" fill="#d2ce88" />
<rect x="164" y="485" width="5" height="5" fill="#d2ce88" />
<rect x="157" y="486" width="1" height="3" fill="#d2ce88" />
<rect x="158" y="492" width="4" height="5" fill="#d2ce88" />
<rect x="164" y="492" width="5" height="5" fill="#d2ce88" />
<rect x="157" y="493" width="1" height="3" fill="#d2ce88" />
<rect x="158" y="499" width="4" height="5" fill="#d2ce88" />
<rect x="164" y="499" width="5" height="5" fill="#d2ce88" />
<rect x="157" y="500" width="1" height="3" fill="#d2ce88" />
<rect x="158" y="506" width="4" height="5" fill="#d2ce88" />
<rect x="164" y="506" width="5" height="5" fill="#d2ce88" />
<rect x="157" y="507" width="1" height="3" fill="#d2ce88" />
<rect x="158" y="513" width="4" height="4" fill="#d2ce88" />
<rect x="164" y="513" width="5" height="4" fill="#d2ce88" />
<rect x="157" y="514" width="1" height="2" fill="#d2ce88" />
<rect x="158" y="519" width="4" height="5" fill="#d2ce88" />
<rect x="164" y="519" width="5" height="5" fill="#d2ce88" />
<rect x="157" y="520" width="1" height="3" fill="#d2ce88" />
<rect x="158" y="526" width="4" height="5" fill="#d2ce88" />
<rect x="164" y="526" width="5" height="5" fill="#d2ce88" />
<rect x="157" y="527" width="1" height="3" fill="#d2ce88" />
<rect x="158" y="533" width="4" height="5" fill="#d2ce88" />
<rect x="164" y="533" width="5" height="5" fill="#d2ce88" />
<rect x="157" y="534" width="1" height="3" fill="#d2ce88" />
<rect x="158" y="540" width="4" height="4" fill="#d2ce88" />
<rect x="164" y="540" width="5" height="4" fill="#d2ce88" />
<rect x="157" y="541" width="1" height="2" fill="#d2ce88" />
<rect x="158" y="546" width="4" height="5" fill="#d2ce88" />
<rect x="164" y="546" width="5" height="5" fill="#d2ce88" />
<rect x="157" y="547" width="1" height="3" fill="#d2ce88" />
<rect x="158" y="553" width="4" height="5" fill="#d2ce88" />
<rect x="164" y="553" width="5" height="5" fill="#d2ce88" />
<rect x="157" y="554" width="1" height="3" fill="#d2ce88" />
<rect x="158" y="560" width="4" height="5" fill="#d2ce88" />
<rect x="164" y="560" width="5" height="5" fill="#d2ce88" />
<rect x="157" y="561" width="1" height="3" fill="#d2ce88" />
<rect x="158" y="567" width="4" height="5" fill="#d2ce88" />
<rect x="164" y="567" width="5" height="5" fill="#d2ce88" />
<rect x="157" y="568" width="1" height="3" fill="#d2ce88" />
<rect x="158" y="574" width="4" height="4" fill="#d2ce88" />
<rect x="164" y="574" width="5" height="4" fill="#d2ce88" />
<rect x="157" y="575" width="1" height="2" fill="#d2ce88" />
<rect x="158" y="580" width="4" height="5" fill="#d2ce88" />
<rect x="164" y="580" width="5" height="5" fill="#d2ce88" />
<rect x="157" y="581" width="1" height="3" fill="#d2ce88" />
<rect x="155" y="533" width="3" height="11" fill="#000" />
<rect x="156" y="534" width="1" height="9" fill="#c0c0c0" />
<rect x="168" y="533" width="3" height="11" fill="#000" />
<rect x="169" y="534" width="1" height="9" fill="#c0c0c0" />
<path d="M150,148 L150,146.5 Q150,145 152,145 L174,145 Q176,145 176,146.5 L177,146.5 L177,151 L175,151 L175,147 L150,147 Z" fill="#000" stroke="none" stroke-width="1" />
<rect x="176" y="568" width="118" height="16" fill="#000" />
<rect x="176" y="569" width="118" height="1" fill="#c8c8c8" />
<rect x="176" y="582" width="118" height="1" fill="#c8c8c8" />
<rect x="176" y="571" width="118" height="10" fill="#d2ce88" />
<path d="M200,576.5 L206,572.5 L206,580.5 Z" fill="#808080" stroke="none" stroke-width="1" />
<rect x="205" y="576" width="14" height="1" fill="#808080" />
<path d="M262,576.5 L268,572.5 L268,580.5 Z" fill="#808080" stroke="none" stroke-width="1" />
<rect x="267" y="576" width="14" height="1" fill="#808080" />
<rect x="218" y="130" width="1" height="15" fill="#000" />
<path d="M214,144 L223,144 L218.5,149 Z" fill="#000" stroke="none" stroke-width="1" />
<text x="231" y="147" font-family="Liberation Sans" font-size="11" font-weight="bold" fill="#000" >ΝΕΡΟ</text>
<path d="M214.5,519 L214.5,157" fill="none" stroke="#000" stroke-width="1" />
<path d="M221.5,512.5 L221.5,157" fill="none" stroke="#000" stroke-width="1" />
<rect x="215" y="157" width="6" height="362" fill="url(#pipeV)" />
<rect x="221" y="513" width="73" height="6" fill="url(#pipeH)" />
<rect x="215" y="513" width="6" height="6" fill="#c4c4c8" />
<path d="M221,512.5 L294,512.5" fill="none" stroke="#000" stroke-width="1" />
<path d="M214,519.5 L294,519.5" fill="none" stroke="#000" stroke-width="1" />
<path d="M214.5,155.5 Q218,153 221.5,155.5" fill="#c4c4c8" stroke="#000" stroke-width="1" />
<rect x="214" y="192" width="8" height="10" fill="#c0c0c0" />
<path d="M213,191 L224,191 L218.5,197 Z M213,203 L224,203 L218.5,197 Z" fill="#000" stroke="none" stroke-width="1" />
<rect x="213" y="190" width="11" height="2" fill="#000" />
<rect x="213" y="202" width="11" height="2" fill="#000" />
<rect x="222" y="196" width="4" height="1" fill="#000" />
<rect x="226.5" y="192.5" width="7" height="9" fill="#c0c0c0" stroke="#000"/>
<line x1="227" y1="194" x2="233" y2="200" stroke="#000" stroke-width="1" />
<text x="360" y="205" font-family="Liberation Sans" font-size="13" fill="#0000ff" letter-spacing="1.24">ΚΤΙΡΙΟ ΕΠΕΞΕΡΓΑΣΙΑΣ ΛΑΣΠΗΣ</text>
<text x="361" y="205" font-family="Liberation Sans" font-size="13" fill="#0000ff" letter-spacing="1.24">ΚΤΙΡΙΟ ΕΠΕΞΕΡΓΑΣΙΑΣ ΛΑΣΠΗΣ</text>
<text x="114" y="206" font-family="Liberation Sans" font-size="13" fill="#000" letter-spacing="-0.5">ΚΧ1</text>
<text x="115" y="206" font-family="Liberation Sans" font-size="13" fill="#000" letter-spacing="-0.5">ΚΧ1</text>
<text x="288" y="276" font-family="Liberation Sans" font-size="13" fill="#000" letter-spacing="0.1">ΑΣ1</text>
<text x="289" y="276" font-family="Liberation Sans" font-size="13" fill="#000" letter-spacing="0.1">ΑΣ1</text>
<text x="328" y="276" font-family="Liberation Sans" font-size="13" fill="#000" letter-spacing="1.5">ΑΣ2</text>
<text x="329" y="276" font-family="Liberation Sans" font-size="13" fill="#000" letter-spacing="1.5">ΑΣ2</text>
<text x="430" y="405" font-family="Liberation Sans" font-size="13" fill="#0000ff" letter-spacing="1.42">Α/Σ ΛΑΣΠΗΣ</text>
<text x="431" y="405" font-family="Liberation Sans" font-size="13" fill="#0000ff" letter-spacing="1.42">Α/Σ ΛΑΣΠΗΣ</text>
<text x="326" y="426" font-family="Liberation Sans" font-size="11" font-weight="bold" fill="#000" letter-spacing="0.1">ΑΝΑΜΙΚΤΗΣ</text>
<text x="333" y="468" font-family="Liberation Sans" font-size="11" font-weight="bold" fill="#000" letter-spacing="0.35">ΦΥΓΟΚΕΝΤΡΟΣ</text>
<text x="325" y="615" font-family="Liberation Sans" font-size="11" font-weight="bold" fill="#000" letter-spacing="0.4">ΞΕΣΤΡΟ</text>
<text x="472" y="532" font-family="Liberation Sans" font-size="13" fill="#000" letter-spacing="1.0">ΔΠ1</text>
<text x="473" y="532" font-family="Liberation Sans" font-size="13" fill="#000" letter-spacing="1.0">ΔΠ1</text>
<text x="533" y="553" font-family="Liberation Sans" font-size="13" fill="#000" letter-spacing="1.4">ΑΝ1</text>
<text x="534" y="553" font-family="Liberation Sans" font-size="13" fill="#000" letter-spacing="1.4">ΑΝ1</text>
<text x="481" y="648" font-family="Liberation Sans" font-size="11" font-weight="bold" fill="#000" letter-spacing="0.55">ΠΟΛΥΗΛΕΚΤΡΟΛΥΤΗΣ</text>
<rect x="134" y="145" width="13" height="16" fill="#000" />
<rect x="135" y="146" width="11" height="14" fill="#e8e8e8" />
<rect x="146" y="147" width="3" height="10" fill="#000" />
<rect x="147" y="148" width="1" height="8" fill="#e0e0e0" />
<rect x="133" y="160" width="15" height="2" fill="#000" />
<rect x="135.5" y="161.5" width="10" height="6" fill="#d8d8d8" stroke="#000"/>
<rect x="135" y="164" width="11" height="1" fill="#000" />
<rect x="136" y="191" width="9" height="1" fill="#000"/>
<rect x="134" y="189" width="13" height="2" fill="#000"/>
<rect x="133" y="174" width="15" height="15" fill="#000"/>
<rect x="136" y="190" width="9" height="1" fill="#00ff00"/>
<rect x="135" y="189" width="11" height="1" fill="#00ff00"/>
<rect x="134" y="186" width="13" height="2" fill="#00ff00"/>
<rect x="134" y="174" width="1" height="11" fill="#00ff00"/>
<rect x="136" y="174" width="1" height="11" fill="#00ff00"/>
<rect x="144" y="174" width="1" height="11" fill="#00ff00"/>
<rect x="146" y="174" width="1" height="11" fill="#00ff00"/>
<rect x="138" y="183" width="1" height="2" fill="#00ff00"/>
<rect x="140" y="183" width="2" height="2" fill="#00ff00"/>
<rect x="138" y="175" width="1" height="2" fill="#00ff00"/>
<rect x="140" y="175" width="2" height="2" fill="#00ff00"/>
<rect x="138" y="177" width="5" height="5" fill="#008080"/>
<rect x="133" y="168" width="15" height="6" fill="#000"/>
<rect x="134" y="173" width="13" height="1" fill="#00ff00"/>
<rect x="134" y="171" width="13" height="1" fill="#00ff00"/>
<rect x="131" y="167" width="19" height="4" fill="#000"/>
<rect x="132" y="168" width="17" height="2" fill="#00ff00"/>
<g shape-rendering="auto"><path d="M123.4,179.6 A6.4,6.4 0 1 0 124.8,184.9" fill="none" stroke="#ff0000" stroke-width="2.3"/><path d="M120.9,181.4 L126.3,181.4 L126.3,176.4 Z" fill="#ff0000"/><text x="118.3" y="187.79999999999998" text-anchor="middle" font-family="Liberation Sans" font-weight="bold" font-size="10.5" fill="#0000ff" stroke="#0000ff" stroke-width="0.4">A</text></g>
<rect x="383" y="259" width="173" height="127" fill="#fff" />
<rect x="384" y="260" width="171" height="127" fill="#000" />
<rect x="384" y="260" width="170" height="126" fill="#0000c8" />
<rect x="385" y="261" width="168" height="124" fill="#000080" />
<rect x="392" y="268" width="154" height="110" fill="#0000c8" />
<rect x="393" y="269" width="152" height="108" fill="#000" />
<rect x="394" y="270" width="150" height="106" fill="#00c0f8" />
<rect x="394" y="270" width="150" height="1" fill="#00ffff" />
<rect x="394" y="270" width="1" height="106" fill="#00ffff" />
<rect x="420" y="302" width="98" height="63" fill="#000" />
<rect x="421" y="303" width="96" height="61" fill="#a6caf0" />
<rect x="421" y="303" width="96" height="1" fill="#00ffff" />
<g shape-rendering="auto">
<line x1="394" y1="270" x2="420.5" y2="302.5" stroke="#000" stroke-width="1" />
<line x1="544" y1="270" x2="517.5" y2="302.5" stroke="#000" stroke-width="1" />
<line x1="394" y1="376" x2="420.5" y2="364.5" stroke="#000" stroke-width="1" />
<line x1="544" y1="376" x2="517.5" y2="364.5" stroke="#000" stroke-width="1" />
<line x1="399" y1="275.5" x2="423" y2="275.5" stroke="#c08870" stroke-width="1" />
<line x1="537" y1="275.5" x2="515" y2="275.5" stroke="#c08870" stroke-width="1" />
<line x1="398.5" y1="276" x2="398.5" y2="284" stroke="#c08870" stroke-width="1" />
<line x1="539.5" y1="276" x2="539.5" y2="284" stroke="#c08870" stroke-width="1" />
<line x1="404" y1="282.5" x2="423" y2="282.5" stroke="#c08870" stroke-width="1" />
<line x1="532" y1="282.5" x2="515" y2="282.5" stroke="#c08870" stroke-width="1" />
<line x1="403.5" y1="283" x2="403.5" y2="291" stroke="#c08870" stroke-width="1" />
<line x1="534.5" y1="283" x2="534.5" y2="291" stroke="#c08870" stroke-width="1" />
<line x1="409" y1="288.5" x2="423" y2="288.5" stroke="#c08870" stroke-width="1" />
<line x1="527" y1="288.5" x2="515" y2="288.5" stroke="#c08870" stroke-width="1" />
<line x1="408.5" y1="289" x2="408.5" y2="297" stroke="#c08870" stroke-width="1" />
<line x1="529.5" y1="289" x2="529.5" y2="297" stroke="#c08870" stroke-width="1" />
<line x1="414" y1="294.5" x2="423" y2="294.5" stroke="#c08870" stroke-width="1" />
<line x1="522" y1="294.5" x2="515" y2="294.5" stroke="#c08870" stroke-width="1" />
<line x1="413.5" y1="295" x2="413.5" y2="303" stroke="#c08870" stroke-width="1" />
<line x1="524.5" y1="295" x2="524.5" y2="303" stroke="#c08870" stroke-width="1" />
<line x1="402" y1="370.5" x2="536" y2="370.5" stroke="#80e0ff" stroke-width="1" />
<line x1="410" y1="367.5" x2="528" y2="367.5" stroke="#80e0ff" stroke-width="1" />
</g>
<rect x="558" y="324" width="33" height="63" fill="#fff" />
<rect x="558" y="324" width="32" height="62" fill="#808080" />
<rect x="559" y="325" width="31" height="61" fill="#c0c0c0" />
<rect x="559" y="325" width="30" height="60" fill="#000" />
<rect x="560" y="326" width="29" height="29" fill="#fff" />
<rect x="560" y="326" width="28" height="28" fill="#808080" />
<rect x="561" y="327" width="27" height="27" fill="#000" />
<rect x="560" y="356" width="29" height="29" fill="#fff" />
<rect x="560" y="356" width="28" height="28" fill="#808080" />
<rect x="561" y="357" width="27" height="27" fill="#000" />
<rect x="565" y="358" width="1" height="25" fill="#ff0000" />
<rect x="577" y="358" width="1" height="25" fill="#ff0000" />
<rect x="567" y="378" width="9" height="5" fill="#ff0000" />
<path d="M579,378.5 L585,374 L585,383 Z" fill="#ff0000" stroke="none" stroke-width="1" />
<rect x="297" y="284" width="9" height="1" fill="#000"/>
<rect x="295" y="285" width="13" height="2" fill="#000"/>
<rect x="294" y="287" width="15" height="15" fill="#000"/>
<rect x="297" y="285" width="9" height="1" fill="#00ff00"/>
<rect x="296" y="286" width="11" height="1" fill="#00ff00"/>
<rect x="295" y="288" width="13" height="2" fill="#00ff00"/>
<rect x="295" y="291" width="1" height="11" fill="#00ff00"/>
<rect x="297" y="291" width="1" height="11" fill="#00ff00"/>
<rect x="305" y="291" width="1" height="11" fill="#00ff00"/>
<rect x="307" y="291" width="1" height="11" fill="#00ff00"/>
<rect x="299" y="291" width="1" height="2" fill="#00ff00"/>
<rect x="301" y="291" width="2" height="2" fill="#00ff00"/>
<rect x="299" y="299" width="1" height="2" fill="#00ff00"/>
<rect x="301" y="299" width="2" height="2" fill="#00ff00"/>
<rect x="299" y="294" width="5" height="5" fill="#008080"/>
<rect x="294" y="302" width="15" height="6" fill="#000"/>
<rect x="295" y="302" width="13" height="1" fill="#00ff00"/>
<rect x="295" y="304" width="13" height="1" fill="#00ff00"/>
<rect x="292" y="305" width="19" height="4" fill="#000"/>
<rect x="293" y="306" width="17" height="2" fill="#00ff00"/>
<rect x="336" y="284" width="9" height="1" fill="#000"/>
<rect x="334" y="285" width="13" height="2" fill="#000"/>
<rect x="333" y="287" width="15" height="15" fill="#000"/>
<rect x="336" y="285" width="9" height="1" fill="#00ff00"/>
<rect x="335" y="286" width="11" height="1" fill="#00ff00"/>
<rect x="334" y="288" width="13" height="2" fill="#00ff00"/>
<rect x="334" y="291" width="1" height="11" fill="#00ff00"/>
<rect x="336" y="291" width="1" height="11" fill="#00ff00"/>
<rect x="344" y="291" width="1" height="11" fill="#00ff00"/>
<rect x="346" y="291" width="1" height="11" fill="#00ff00"/>
<rect x="338" y="291" width="1" height="2" fill="#00ff00"/>
<rect x="340" y="291" width="2" height="2" fill="#00ff00"/>
<rect x="338" y="299" width="1" height="2" fill="#00ff00"/>
<rect x="340" y="299" width="2" height="2" fill="#00ff00"/>
<rect x="338" y="294" width="5" height="5" fill="#008080"/>
<rect x="333" y="302" width="15" height="6" fill="#000"/>
<rect x="334" y="302" width="13" height="1" fill="#00ff00"/>
<rect x="334" y="304" width="13" height="1" fill="#00ff00"/>
<rect x="331" y="305" width="19" height="4" fill="#000"/>
<rect x="332" y="306" width="17" height="2" fill="#00ff00"/>
<rect x="312" y="282" width="16" height="12" fill="#000" />
<rect x="313" y="283" width="14" height="10" fill="#fff" />
<rect x="315" y="285" width="10" height="6" fill="#000" />
<rect x="316" y="286" width="8" height="4" fill="#ff0000" />
<rect x="318" y="287" width="4" height="2" fill="#ff00ff" />
<rect x="324" y="291" width="1" height="1" fill="#ff0000" />
<rect x="316" y="294" width="8" height="2" fill="#808080" />
<rect x="314" y="296" width="12" height="1" fill="#000" />
<rect x="354" y="281" width="16" height="12" fill="#000" />
<rect x="355" y="282" width="14" height="10" fill="#fff" />
<rect x="357" y="284" width="10" height="6" fill="#000" />
<rect x="358" y="285" width="8" height="4" fill="#ff0000" />
<rect x="360" y="286" width="4" height="2" fill="#ff00ff" />
<rect x="366" y="290" width="1" height="1" fill="#ff0000" />
<rect x="358" y="293" width="8" height="2" fill="#808080" />
<rect x="356" y="295" width="12" height="1" fill="#000" />
<rect x="295.5" y="309.5" width="12" height="4" fill="#d8d8d8" stroke="#000"/>
<rect x="295" y="313" width="13" height="2" fill="#000" />
<rect x="296.5" y="314.5" width="10" height="8" fill="#c0c0c0" stroke="#000"/>
<rect x="294.5" y="327.5" width="14" height="8" fill="#c0c0c0" stroke="#000"/>
<rect x="296.5" y="323.5" width="10" height="4" fill="#c8c8c8" stroke="#000"/>
<circle cx="301.5" cy="331.5" r="3" fill="#c0c0c0" stroke="#000" shape-rendering="auto"/>
<line x1="299" y1="329.5" x2="304" y2="333.5" stroke="#000" stroke-width="1" />
<line x1="304" y1="329.5" x2="299" y2="333.5" stroke="#000" stroke-width="1" />
<rect x="296.5" y="336.5" width="10" height="2" fill="#c0c0c0" stroke="#000"/>
<rect x="297.5" y="338.5" width="8" height="10" fill="#c8c8c8" stroke="#000"/>
<path d="M297,349 L306,349 L304,353 L299,353 Z" fill="#c0c0c0" stroke="#000" stroke-width="1" />
<rect x="297.5" y="353.5" width="8" height="2" fill="#c0c0c0" stroke="#000"/>
<rect x="299.5" y="356.5" width="4" height="5" fill="#d0d0d0" stroke="#000"/>
<rect x="298.5" y="362.5" width="6" height="7" fill="#c0c0c0" stroke="#000"/>
<rect x="298" y="367" width="7" height="2" fill="#000" />
<rect x="296.5" y="370.5" width="10" height="3" fill="#c0c0c0" stroke="#000"/>
<rect x="300.5" y="374.5" width="2" height="2" fill="#c0c0c0" stroke="#000"/>
<rect x="334.5" y="309.5" width="12" height="4" fill="#d8d8d8" stroke="#000"/>
<rect x="334" y="313" width="13" height="2" fill="#000" />
<rect x="335.5" y="314.5" width="10" height="8" fill="#c0c0c0" stroke="#000"/>
<rect x="333.5" y="327.5" width="14" height="8" fill="#c0c0c0" stroke="#000"/>
<rect x="335.5" y="323.5" width="10" height="4" fill="#c8c8c8" stroke="#000"/>
<circle cx="340.5" cy="331.5" r="3" fill="#c0c0c0" stroke="#000" shape-rendering="auto"/>
<line x1="338" y1="329.5" x2="343" y2="333.5" stroke="#000" stroke-width="1" />
<line x1="343" y1="329.5" x2="338" y2="333.5" stroke="#000" stroke-width="1" />
<rect x="335.5" y="336.5" width="10" height="2" fill="#c0c0c0" stroke="#000"/>
<rect x="336.5" y="338.5" width="8" height="10" fill="#c8c8c8" stroke="#000"/>
<path d="M336,349 L345,349 L343,353 L338,353 Z" fill="#c0c0c0" stroke="#000" stroke-width="1" />
<rect x="336.5" y="353.5" width="8" height="2" fill="#c0c0c0" stroke="#000"/>
<rect x="338.5" y="356.5" width="4" height="5" fill="#d0d0d0" stroke="#000"/>
<rect x="337.5" y="362.5" width="6" height="7" fill="#c0c0c0" stroke="#000"/>
<rect x="337" y="367" width="7" height="2" fill="#000" />
<rect x="335.5" y="370.5" width="10" height="3" fill="#c0c0c0" stroke="#000"/>
<rect x="339.5" y="374.5" width="2" height="2" fill="#c0c0c0" stroke="#000"/>
<rect x="293.5" y="375.5" width="55" height="6" fill="#c8c8c8" stroke="#000"/>
<rect x="307" y="374" width="2" height="9" fill="#000" />
<rect x="313" y="374" width="2" height="9" fill="#000" />
<rect x="328" y="374" width="2" height="9" fill="#000" />
<rect x="334" y="374" width="2" height="9" fill="#000" />
<path d="M315,375 L328,375 L326,383 L317,383 Z" fill="#c0c0c0" stroke="#000" stroke-width="1" />
<path d="M318.5,383 L318.5,430" fill="none" stroke="#000" stroke-width="1" />
<path d="M324.5,383 L324.5,430" fill="none" stroke="#000" stroke-width="1" />
<rect x="319" y="383" width="5" height="47" fill="url(#pipeV)" />
<path d="M318.5,447 L318.5,470" fill="none" stroke="#000" stroke-width="1" />
<path d="M324.5,447 L324.5,470" fill="none" stroke="#000" stroke-width="1" />
<rect x="319" y="447" width="5" height="23" fill="url(#pipeV)" />
<rect x="314.5" y="429.5" width="13" height="18" fill="#c8c8c8" stroke="#000"/>
<path d="M328,438.5 L433,438.5" fill="none" stroke="#000" stroke-width="1" />
<path d="M328,442.5 L433,442.5" fill="none" stroke="#000" stroke-width="1" />
<rect x="328" y="439" width="105" height="3" fill="url(#pipeH)" />
<path d="M429.5,443 L429.5,626 L485,626" fill="none" stroke="#000" stroke-width="1" />
<path d="M433.5,438.5 L433.5,622.5 L485,622.5" fill="none" stroke="#000" stroke-width="1" />
<rect x="430" y="443" width="3" height="180" fill="#c8c8c8" />
<rect x="430" y="623" width="55" height="3" fill="#c8c8c8" />
<path d="M483.5,626 L483.5,608" fill="none" stroke="#000" stroke-width="1" />
<path d="M487.5,622 L487.5,608" fill="none" stroke="#000" stroke-width="1" />
<rect x="484" y="608" width="3" height="15" fill="#c8c8c8" />
<rect x="308" y="330" width="14" height="4" fill="#000" />
<rect x="308" y="331" width="12" height="2" fill="#d0d0d4" />
<rect x="318" y="317" width="4" height="17" fill="#000" />
<rect x="319" y="318" width="2" height="14" fill="#d0d0d4" />
<rect x="318" y="317" width="113" height="4" fill="#000" />
<rect x="319" y="318" width="110" height="2" fill="#d0d0d4" />
<rect x="427" y="317" width="4" height="7" fill="#000" />
<rect x="428" y="318" width="2" height="5" fill="#d0d0d4" />
<rect x="427" y="320" width="1" height="3" fill="#000" />
<rect x="346" y="330" width="85" height="4" fill="#000" />
<rect x="346" y="331" width="83" height="2" fill="#d0d0d4" />
<rect x="427" y="330" width="4" height="8" fill="#000" />
<rect x="428" y="331" width="2" height="6" fill="#d0d0d4" />
<rect x="318" y="317" width="1" height="1" fill="#a0a0a4" />
<rect x="430" y="317" width="1" height="1" fill="#00c0f8" />
<rect x="430" y="330" width="1" height="1" fill="#00c0f8" />
<rect x="294" y="471" width="54" height="130" fill="#000" />
<rect x="295" y="472" width="52" height="128" fill="#a6caf0" />
<rect x="315" y="470" width="13" height="2" fill="#000" />
<path d="M303.5,480.5 L337.5,480.5 L340.5,483.5 L340.5,557.5 L320.5,585.5 L301.5,557.5 L301.5,483.5 Z" fill="#c0c0c0" stroke="#000" stroke-width="1" />
<line x1="302" y1="557.5" x2="340" y2="557.5" stroke="#808080" stroke-width="1" />
<rect x="307" y="495" width="4" height="45" fill="#000" />
<rect x="308" y="496" width="2" height="43" fill="#00ff00" />
<rect x="319" y="495" width="4" height="45" fill="#000" />
<rect x="320" y="496" width="2" height="43" fill="#00ff00" />
<rect x="331" y="495" width="4" height="45" fill="#000" />
<rect x="332" y="496" width="2" height="43" fill="#00ff00" />
<g shape-rendering="auto">
<path d="M322,588 L344.5,560 L345.5,566 L325,592 Z" fill="#00ff00" stroke="#000" stroke-width="1" />
</g>
<path d="M326.5,593 L326.5,597.5 L344.5,597.5 L344.5,572" fill="none" stroke="#000" stroke-width="1" />
<line x1="332.5" y1="587" x2="332.5" y2="597" stroke="#000" stroke-width="1" />
<line x1="338.5" y1="580" x2="338.5" y2="597" stroke="#000" stroke-width="1" />
<rect x="311" y="600" width="17" height="3" fill="#000" />
<g shape-rendering="auto"><path d="M365.4,478.6 A6.4,6.4 0 1 0 366.8,483.90000000000003" fill="none" stroke="#ff0000" stroke-width="2.3"/><path d="M362.9,480.40000000000003 L368.3,480.40000000000003 L368.3,475.40000000000003 Z" fill="#ff0000"/><text x="360.3" y="486.8" text-anchor="middle" font-family="Liberation Sans" font-weight="bold" font-size="10.5" fill="#0000ff" stroke="#0000ff" stroke-width="0.4">A</text></g>
<g shape-rendering="auto"><path d="M366.4,588.6 A6.4,6.4 0 1 0 367.8,593.9" fill="none" stroke="#ff0000" stroke-width="2.3"/><path d="M363.9,590.4 L369.3,590.4 L369.3,585.4 Z" fill="#ff0000"/><text x="361.3" y="596.8000000000001" text-anchor="middle" font-family="Liberation Sans" font-weight="bold" font-size="10.5" fill="#0000ff" stroke="#0000ff" stroke-width="0.4">A</text></g>
<g shape-rendering="auto"><circle cx="546.5" cy="590.5" r="31" fill="#a6caf0" stroke="#000" stroke-width="4.4"/><circle cx="546.5" cy="590.5" r="31" fill="none" stroke="#808080" stroke-width="2"/></g>
<rect x="539" y="565" width="18" height="8" fill="#b0b0b0" />
<rect x="543" y="565" width="9" height="1" fill="#000"/>
<rect x="541" y="566" width="13" height="2" fill="#000"/>
<rect x="540" y="568" width="15" height="15" fill="#000"/>
<rect x="543" y="566" width="9" height="1" fill="#ffff00"/>
<rect x="542" y="567" width="11" height="1" fill="#ffff00"/>
<rect x="541" y="569" width="13" height="2" fill="#ffff00"/>
<rect x="541" y="572" width="1" height="11" fill="#ffff00"/>
<rect x="543" y="572" width="1" height="11" fill="#ffff00"/>
<rect x="551" y="572" width="1" height="11" fill="#ffff00"/>
<rect x="553" y="572" width="1" height="11" fill="#ffff00"/>
<rect x="545" y="572" width="1" height="2" fill="#ffff00"/>
<rect x="547" y="572" width="2" height="2" fill="#ffff00"/>
<rect x="545" y="580" width="1" height="2" fill="#ffff00"/>
<rect x="547" y="580" width="2" height="2" fill="#ffff00"/>
<rect x="545" y="575" width="5" height="5" fill="#008080"/>
<rect x="540" y="583" width="15" height="6" fill="#000"/>
<rect x="541" y="583" width="13" height="1" fill="#ffff00"/>
<rect x="541" y="585" width="13" height="1" fill="#ffff00"/>
<rect x="538" y="586" width="19" height="4" fill="#000"/>
<rect x="539" y="587" width="17" height="2" fill="#ffff00"/>
<g shape-rendering="auto" fill="none" stroke="#000"><path d="M535,582 L535,588 Q537,594 543,595"/><path d="M550,594 Q556,593 558,599 L558,604"/><path d="M543,597 Q543,603 536,604 L528,604"/><circle cx="547" cy="593" r="2.5" fill="#808080"/></g>
<rect x="482" y="540" width="9" height="1" fill="#000"/>
<rect x="480" y="541" width="13" height="2" fill="#000"/>
<rect x="479" y="543" width="15" height="15" fill="#000"/>
<rect x="482" y="541" width="9" height="1" fill="#ffff00"/>
<rect x="481" y="542" width="11" height="1" fill="#ffff00"/>
<rect x="480" y="544" width="13" height="2" fill="#ffff00"/>
<rect x="480" y="547" width="1" height="11" fill="#ffff00"/>
<rect x="482" y="547" width="1" height="11" fill="#ffff00"/>
<rect x="490" y="547" width="1" height="11" fill="#ffff00"/>
<rect x="492" y="547" width="1" height="11" fill="#ffff00"/>
<rect x="484" y="547" width="1" height="2" fill="#ffff00"/>
<rect x="486" y="547" width="2" height="2" fill="#ffff00"/>
<rect x="484" y="555" width="1" height="2" fill="#ffff00"/>
<rect x="486" y="555" width="2" height="2" fill="#ffff00"/>
<rect x="484" y="550" width="5" height="5" fill="#008080"/>
<rect x="479" y="558" width="15" height="6" fill="#000"/>
<rect x="480" y="558" width="13" height="1" fill="#ffff00"/>
<rect x="480" y="560" width="13" height="1" fill="#ffff00"/>
<rect x="477" y="561" width="19" height="4" fill="#000"/>
<rect x="478" y="562" width="17" height="2" fill="#ffff00"/>
<rect x="480.5" y="565.5" width="11" height="19" fill="#c8c8c8" stroke="#000"/>
<rect x="480" y="571" width="12" height="2" fill="#000" />
<rect x="478.5" y="584.5" width="14" height="7" fill="#c0c0c0" stroke="#000"/>
<circle cx="485.5" cy="588" r="3" fill="#c0c0c0" stroke="#000" shape-rendering="auto"/>
<rect x="480.5" y="592.5" width="11" height="13" fill="#c8c8c8" stroke="#000"/>
<rect x="480" y="599" width="12" height="2" fill="#000" />
<rect x="484" y="606" width="3" height="4" fill="#000" />
<rect x="492" y="586" width="33" height="4" fill="#000" />
<rect x="492" y="587" width="31" height="2" fill="#d0d0d4" />
<rect x="520" y="586" width="5" height="13" fill="#000" />
<rect x="521" y="587" width="3" height="11" fill="#d0d0d4" />
<rect x="520" y="590" width="1" height="9" fill="#000" />
<rect x="524" y="586" width="1" height="1" fill="#a6caf0" />
<g shape-rendering="auto"><path d="M511.4,547.6 A6.4,6.4 0 1 0 512.8,552.9" fill="none" stroke="#ff0000" stroke-width="2.3"/><path d="M508.9,549.4 L514.3,549.4 L514.3,544.4 Z" fill="#ff0000"/><text x="506.3" y="555.8000000000001" text-anchor="middle" font-family="Liberation Sans" font-weight="bold" font-size="10.5" fill="#0000ff" stroke="#0000ff" stroke-width="0.4">A</text></g>
<rect x="576" y="556" width="1" height="7" fill="#000" />
<rect x="578" y="555" width="1" height="8" fill="#000" />
<rect x="580" y="555" width="1" height="8" fill="#000" />
<rect x="582" y="556" width="1" height="7" fill="#000" />
<rect x="584" y="557" width="1" height="10" fill="#000" />
<rect x="577" y="555" width="1" height="1" fill="#000" />
<rect x="579" y="554" width="1" height="1" fill="#000" />
<rect x="581" y="554" width="1" height="1" fill="#000" />
<rect x="583" y="556" width="1" height="1" fill="#000" />
<rect x="577" y="556" width="1" height="10" fill="#fff" />
<rect x="579" y="555" width="1" height="11" fill="#fff" />
<rect x="581" y="555" width="1" height="11" fill="#fff" />
<rect x="583" y="557" width="1" height="9" fill="#fff" />
<rect x="576" y="563" width="8" height="3" fill="#fff" />
<rect x="578" y="562" width="1" height="1" fill="#000" />
<rect x="580" y="562" width="1" height="1" fill="#000" />
<rect x="582" y="562" width="1" height="1" fill="#000" />
<rect x="572" y="560" width="2" height="1" fill="#000" />
<rect x="572" y="561" width="1" height="1" fill="#000" />
<rect x="573" y="561" width="3" height="1" fill="#fff" />
<rect x="573" y="562" width="1" height="1" fill="#000" />
<rect x="574" y="562" width="2" height="1" fill="#fff" />
<rect x="574" y="563" width="1" height="1" fill="#000" />
<rect x="575" y="563" width="1" height="2" fill="#fff" />
<rect x="575" y="565" width="1" height="1" fill="#000" />
<rect x="576" y="566" width="1" height="1" fill="#000" />
<rect x="583" y="566" width="1" height="1" fill="#000" />
<rect x="576" y="566" width="8" height="1" fill="#fff" />
<rect x="576" y="567" width="9" height="1" fill="#0000ff" /></svg><div class="a" style="left:793px;top:83px;width:231px;height:650px;background:#808080"></div><div class="a" style="left:794px;top:84px;width:230px;height:649px;background:#000"></div><div class="a" style="left:795px;top:85px;width:229px;height:648px;background:#c0c0c0"></div><div class="a" style="left:796px;top:86px;width:226px;height:646px;background:#fff"></div><div class="a" style="left:797px;top:87px;width:224px;height:644px;background:#808080"></div><div class="a" style="left:798px;top:88px;width:222px;height:643px;background:#fff"></div><div class="a yd" style="left:799px;top:89px;width:218px;height:641px"></div><svg width="0" height="0"><defs><pattern id="dk" width="2" height="2" patternUnits="userSpaceOnUse"><rect width="2" height="2" fill="#000"/><rect width="1" height="1" fill="#808080"/><rect x="1" y="1" width="1" height="1" fill="#808080"/></pattern></defs></svg><div class="a" style="left:851px;top:82.5px;font-family:Liberation Serif;font-weight:bold;font-size:24px;letter-spacing:-0.4px;line-height:30px;color:#ff0000;text-shadow:-1px -1px 0 #00ffff,3px 4px 0 #c0c0c0,2px 3px 0 #c0c0c0;white-space:nowrap">ΧΕΙΡΙΣΜΟΙ</div><div class="hdr" style="top:116px;height:22px;border-bottom-width:3px;line-height:18px;letter-spacing:0.6px;padding-left:3px">Α/Σ ΛΑΣΠΗΣ</div><div class="gb" style="top:138px;height:63px"><div class="gbi yb"></div></div><div class="lbl" style="left:827px;top:141px">ΑΣ1</div><div class="bx" style="left:808px;top:162px;width:111px;height:37px;background:#a0a0a4"></div><div class="bx" style="left:922px;top:162px;width:82px;height:37px;background:#c0c0c0"></div><svg class="a" style="left:821px;top:167px" width="30" height="30" viewBox="0 0 30 30"><polygon points="12,2 19,2 22,3 29,10 29,21 22,28 19,29 12,29 9,28 2,21 2,10 9,3" fill="#808080"/><polygon points="10,0.5 17,0.5 20,1.5 26.5,8 26.5,19 20,25.5 17,26.5 10,26.5 7,25.5 0.5,19 0.5,8 7,1.5" fill="#808000" stroke="#000" stroke-width="1.1"/><text x="13.5" y="19" text-anchor="middle" font-family="Liberation Sans" font-weight="bold" font-size="16.5" fill="#0000ff">A</text></svg><svg class="a" style="left:853px;top:167px" width="30" height="30" viewBox="0 0 30 30"><polygon points="12,2 19,2 22,3 29,10 29,21 22,28 19,29 12,29 9,28 2,21 2,10 9,3" fill="#808080"/><polygon points="10,0.5 17,0.5 20,1.5 26.5,8 26.5,19 20,25.5 17,26.5 10,26.5 7,25.5 0.5,19 0.5,8 7,1.5" fill="#808000" stroke="#000" stroke-width="1.1"/><text x="13.5" y="19" text-anchor="middle" font-family="Liberation Sans" font-weight="bold" font-size="16.5" fill="#0000ff">O</text></svg><svg class="a" style="left:885px;top:167px" width="30" height="30" viewBox="0 0 30 30"><polygon points="12,2 19,2 22,3 29,10 29,21 22,28 19,29 12,29 9,28 2,21 2,10 9,3" fill="#808080"/><polygon points="10,0.5 17,0.5 20,1.5 26.5,8 26.5,19 20,25.5 17,26.5 10,26.5 7,25.5 0.5,19 0.5,8 7,1.5" fill="#ffff00" stroke="#000" stroke-width="1.1"/><text x="13.5" y="19" text-anchor="middle" font-family="Liberation Sans" font-weight="bold" font-size="16.5" fill="#0000ff">M</text></svg><svg class="a" style="left:935px;top:167px" width="30" height="30" viewBox="0 0 30 30"><polygon points="12,2 19,2 22,3 29,10 29,21 22,28 19,29 12,29 9,28 2,21 2,10 9,3" fill="#808080"/><polygon points="10,0.5 17,0.5 20,1.5 26.5,8 26.5,19 20,25.5 17,26.5 10,26.5 7,25.5 0.5,19 0.5,8 7,1.5" fill="#800000" stroke="#000" stroke-width="1.1"/><text x="13.5" y="19" text-anchor="middle" font-family="Liberation Sans" font-weight="bold" font-size="16.5" fill="#0000ff">0</text></svg><svg class="a" style="left:967px;top:167px" width="30" height="30" viewBox="0 0 30 30"><polygon points="12,2 19,2 22,3 29,10 29,21 22,28 19,29 12,29 9,28 2,21 2,10 9,3" fill="#808080"/><polygon points="10,0.5 17,0.5 20,1.5 26.5,8 26.5,19 20,25.5 17,26.5 10,26.5 7,25.5 0.5,19 0.5,8 7,1.5" fill="#00ff00" stroke="#000" stroke-width="1.1"/><text x="13.5" y="19" text-anchor="middle" font-family="Liberation Sans" font-weight="bold" font-size="16.5" fill="#0000ff">I</text></svg><div class="gb" style="top:202px;height:63px"><div class="gbi yb"></div></div><div class="lbl" style="left:827px;top:205px">ΑΣ2</div><div class="bx" style="left:808px;top:226px;width:111px;height:37px;background:#a0a0a4"></div><div class="bx" style="left:922px;top:226px;width:82px;height:37px;background:#c0c0c0"></div><svg class="a" style="left:821px;top:231px" width="30" height="30" viewBox="0 0 30 30"><polygon points="12,2 19,2 22,3 29,10 29,21 22,28 19,29 12,29 9,28 2,21 2,10 9,3" fill="#808080"/><polygon points="10,0.5 17,0.5 20,1.5 26.5,8 26.5,19 20,25.5 17,26.5 10,26.5 7,25.5 0.5,19 0.5,8 7,1.5" fill="#808000" stroke="#000" stroke-width="1.1"/><text x="13.5" y="19" text-anchor="middle" font-family="Liberation Sans" font-weight="bold" font-size="16.5" fill="#0000ff">A</text></svg><svg class="a" style="left:853px;top:231px" width="30" height="30" viewBox="0 0 30 30"><polygon points="12,2 19,2 22,3 29,10 29,21 22,28 19,29 12,29 9,28 2,21 2,10 9,3" fill="#808080"/><polygon points="10,0.5 17,0.5 20,1.5 26.5,8 26.5,19 20,25.5 17,26.5 10,26.5 7,25.5 0.5,19 0.5,8 7,1.5" fill="#808000" stroke="#000" stroke-width="1.1"/><text x="13.5" y="19" text-anchor="middle" font-family="Liberation Sans" font-weight="bold" font-size="16.5" fill="#0000ff">O</text></svg><svg class="a" style="left:885px;top:231px" width="30" height="30" viewBox="0 0 30 30"><polygon points="12,2 19,2 22,3 29,10 29,21 22,28 19,29 12,29 9,28 2,21 2,10 9,3" fill="#808080"/><polygon points="10,0.5 17,0.5 20,1.5 26.5,8 26.5,19 20,25.5 17,26.5 10,26.5 7,25.5 0.5,19 0.5,8 7,1.5" fill="#ffff00" stroke="#000" stroke-width="1.1"/><text x="13.5" y="19" text-anchor="middle" font-family="Liberation Sans" font-weight="bold" font-size="16.5" fill="#0000ff">M</text></svg><svg class="a" style="left:935px;top:231px" width="30" height="30" viewBox="0 0 30 30"><polygon points="12,2 19,2 22,3 29,10 29,21 22,28 19,29 12,29 9,28 2,21 2,10 9,3" fill="#808080"/><polygon points="10,0.5 17,0.5 20,1.5 26.5,8 26.5,19 20,25.5 17,26.5 10,26.5 7,25.5 0.5,19 0.5,8 7,1.5" fill="#800000" stroke="#000" stroke-width="1.1"/><text x="13.5" y="19" text-anchor="middle" font-family="Liberation Sans" font-weight="bold" font-size="16.5" fill="#0000ff">0</text></svg><svg class="a" style="left:967px;top:231px" width="30" height="30" viewBox="0 0 30 30"><polygon points="12,2 19,2 22,3 29,10 29,21 22,28 19,29 12,29 9,28 2,21 2,10 9,3" fill="#808080"/><polygon points="10,0.5 17,0.5 20,1.5 26.5,8 26.5,19 20,25.5 17,26.5 10,26.5 7,25.5 0.5,19 0.5,8 7,1.5" fill="#00ff00" stroke="#000" stroke-width="1.1"/><text x="13.5" y="19" text-anchor="middle" font-family="Liberation Sans" font-weight="bold" font-size="16.5" fill="#0000ff">I</text></svg><div class="hdr" style="top:270px;height:21px;line-height:19px;letter-spacing:0.6px;padding-left:8px">ΠΟΛΥΗΛΕΚΤΡΟΛΥΤΗΣ</div><div class="hdr" style="top:426px;height:22px;border-bottom-width:3px;line-height:18px;letter-spacing:0.4px;padding-left:6px">ΕΠΕΞΕΡΓΑΣΙΑ ΛΑΣΠΗΣ</div><div class="gb" style="top:448px;height:63px"><div class="gbi yb"></div></div><div class="lbl" style="left:827px;top:451px">ΚΧ1</div><div class="bx" style="left:808px;top:472px;width:111px;height:37px;background:#a0a0a4"></div><div class="bx" style="left:922px;top:472px;width:82px;height:37px;background:#c0c0c0"></div><svg class="a" style="left:821px;top:477px" width="30" height="30" viewBox="0 0 30 30"><polygon points="12,2 19,2 22,3 29,10 29,21 22,28 19,29 12,29 9,28 2,21 2,10 9,3" fill="#808080"/><polygon points="10,0.5 17,0.5 20,1.5 26.5,8 26.5,19 20,25.5 17,26.5 10,26.5 7,25.5 0.5,19 0.5,8 7,1.5" fill="#ffff00" stroke="#000" stroke-width="1.1"/><text x="13.5" y="19" text-anchor="middle" font-family="Liberation Sans" font-weight="bold" font-size="16.5" fill="#0000ff">A</text></svg><svg class="a" style="left:853px;top:477px" width="30" height="30" viewBox="0 0 30 30"><polygon points="12,2 19,2 22,3 29,10 29,21 22,28 19,29 12,29 9,28 2,21 2,10 9,3" fill="#808080"/><polygon points="10,0.5 17,0.5 20,1.5 26.5,8 26.5,19 20,25.5 17,26.5 10,26.5 7,25.5 0.5,19 0.5,8 7,1.5" fill="#808000" stroke="#000" stroke-width="1.1"/><text x="13.5" y="19" text-anchor="middle" font-family="Liberation Sans" font-weight="bold" font-size="16.5" fill="#0000ff">O</text></svg><svg class="a" style="left:885px;top:477px" width="30" height="30" viewBox="0 0 30 30"><polygon points="12,2 19,2 22,3 29,10 29,21 22,28 19,29 12,29 9,28 2,21 2,10 9,3" fill="#808080"/><polygon points="10,0.5 17,0.5 20,1.5 26.5,8 26.5,19 20,25.5 17,26.5 10,26.5 7,25.5 0.5,19 0.5,8 7,1.5" fill="#808000" stroke="#000" stroke-width="1.1"/><text x="13.5" y="19" text-anchor="middle" font-family="Liberation Sans" font-weight="bold" font-size="16.5" fill="#0000ff">M</text></svg><svg class="a" style="left:935px;top:477px" width="30" height="30" viewBox="0 0 30 30"><polygon points="12,2 19,2 22,3 29,10 29,21 22,28 19,29 12,29 9,28 2,21 2,10 9,3" fill="#808080"/><polygon points="10,0.5 17,0.5 20,1.5 26.5,8 26.5,19 20,25.5 17,26.5 10,26.5 7,25.5 0.5,19 0.5,8 7,1.5" fill="url(#dk)" stroke="#000" stroke-width="1.1"/><text x="13.5" y="19" text-anchor="middle" font-family="Liberation Sans" font-weight="bold" font-size="16.5" fill="#0000ff">0</text></svg><svg class="a" style="left:967px;top:477px" width="30" height="30" viewBox="0 0 30 30"><polygon points="12,2 19,2 22,3 29,10 29,21 22,28 19,29 12,29 9,28 2,21 2,10 9,3" fill="#808080"/><polygon points="10,0.5 17,0.5 20,1.5 26.5,8 26.5,19 20,25.5 17,26.5 10,26.5 7,25.5 0.5,19 0.5,8 7,1.5" fill="url(#dk)" stroke="#000" stroke-width="1.1"/><text x="13.5" y="19" text-anchor="middle" font-family="Liberation Sans" font-weight="bold" font-size="16.5" fill="#0000ff">I</text></svg><div class="gb" style="top:512px;height:99px"><div class="gbi yb"></div></div><div class="lbl" style="left:820px;top:515px">ΦΥΓΟΚΕΝΤΡΟΣ</div><div class="bx" style="left:808px;top:536px;width:111px;height:37px;background:#a0a0a4"></div><div class="bx" style="left:922px;top:536px;width:82px;height:37px;background:#c0c0c0"></div><svg class="a" style="left:821px;top:541px" width="30" height="30" viewBox="0 0 30 30"><polygon points="12,2 19,2 22,3 29,10 29,21 22,28 19,29 12,29 9,28 2,21 2,10 9,3" fill="#808080"/><polygon points="10,0.5 17,0.5 20,1.5 26.5,8 26.5,19 20,25.5 17,26.5 10,26.5 7,25.5 0.5,19 0.5,8 7,1.5" fill="#ffff00" stroke="#000" stroke-width="1.1"/><text x="13.5" y="19" text-anchor="middle" font-family="Liberation Sans" font-weight="bold" font-size="16.5" fill="#0000ff">A</text></svg><svg class="a" style="left:853px;top:541px" width="30" height="30" viewBox="0 0 30 30"><polygon points="12,2 19,2 22,3 29,10 29,21 22,28 19,29 12,29 9,28 2,21 2,10 9,3" fill="#808080"/><polygon points="10,0.5 17,0.5 20,1.5 26.5,8 26.5,19 20,25.5 17,26.5 10,26.5 7,25.5 0.5,19 0.5,8 7,1.5" fill="#808000" stroke="#000" stroke-width="1.1"/><text x="13.5" y="19" text-anchor="middle" font-family="Liberation Sans" font-weight="bold" font-size="16.5" fill="#0000ff">O</text></svg><svg class="a" style="left:885px;top:541px" width="30" height="30" viewBox="0 0 30 30"><polygon points="12,2 19,2 22,3 29,10 29,21 22,28 19,29 12,29 9,28 2,21 2,10 9,3" fill="#808080"/><polygon points="10,0.5 17,0.5 20,1.5 26.5,8 26.5,19 20,25.5 17,26.5 10,26.5 7,25.5 0.5,19 0.5,8 7,1.5" fill="#808000" stroke="#000" stroke-width="1.1"/><text x="13.5" y="19" text-anchor="middle" font-family="Liberation Sans" font-weight="bold" font-size="16.5" fill="#0000ff">M</text></svg><svg class="a" style="left:935px;top:541px" width="30" height="30" viewBox="0 0 30 30"><polygon points="12,2 19,2 22,3 29,10 29,21 22,28 19,29 12,29 9,28 2,21 2,10 9,3" fill="#808080"/><polygon points="10,0.5 17,0.5 20,1.5 26.5,8 26.5,19 20,25.5 17,26.5 10,26.5 7,25.5 0.5,19 0.5,8 7,1.5" fill="url(#dk)" stroke="#000" stroke-width="1.1"/><text x="13.5" y="19" text-anchor="middle" font-family="Liberation Sans" font-weight="bold" font-size="16.5" fill="#0000ff">0</text></svg><svg class="a" style="left:967px;top:541px" width="30" height="30" viewBox="0 0 30 30"><polygon points="12,2 19,2 22,3 29,10 29,21 22,28 19,29 12,29 9,28 2,21 2,10 9,3" fill="#808080"/><polygon points="10,0.5 17,0.5 20,1.5 26.5,8 26.5,19 20,25.5 17,26.5 10,26.5 7,25.5 0.5,19 0.5,8 7,1.5" fill="url(#dk)" stroke="#000" stroke-width="1.1"/><text x="13.5" y="19" text-anchor="middle" font-family="Liberation Sans" font-weight="bold" font-size="16.5" fill="#0000ff">I</text></svg><div class="bx" style="left:808px;top:576px;width:196px;height:33px;background:#c0c0c0"></div><div class="ntx" style="left:822px;top:584px">Χρόνος ΟΝ:</div><div class="tbox" style="left:941px;top:582px;width:61px;height:25px">20</div><div class="gb" style="top:611px;height:63px"><div class="gbi yb"></div></div><div class="lbl" style="left:828px;top:614px">ΞΕΣΤΡΟ</div><div class="bx" style="left:808px;top:635px;width:111px;height:37px;background:#a0a0a4"></div><div class="bx" style="left:922px;top:635px;width:82px;height:37px;background:#c0c0c0"></div><svg class="a" style="left:821px;top:640px" width="30" height="30" viewBox="0 0 30 30"><polygon points="12,2 19,2 22,3 29,10 29,21 22,28 19,29 12,29 9,28 2,21 2,10 9,3" fill="#808080"/><polygon points="10,0.5 17,0.5 20,1.5 26.5,8 26.5,19 20,25.5 17,26.5 10,26.5 7,25.5 0.5,19 0.5,8 7,1.5" fill="#ffff00" stroke="#000" stroke-width="1.1"/><text x="13.5" y="19" text-anchor="middle" font-family="Liberation Sans" font-weight="bold" font-size="16.5" fill="#0000ff">A</text></svg><svg class="a" style="left:853px;top:640px" width="30" height="30" viewBox="0 0 30 30"><polygon points="12,2 19,2 22,3 29,10 29,21 22,28 19,29 12,29 9,28 2,21 2,10 9,3" fill="#808080"/><polygon points="10,0.5 17,0.5 20,1.5 26.5,8 26.5,19 20,25.5 17,26.5 10,26.5 7,25.5 0.5,19 0.5,8 7,1.5" fill="#808000" stroke="#000" stroke-width="1.1"/><text x="13.5" y="19" text-anchor="middle" font-family="Liberation Sans" font-weight="bold" font-size="16.5" fill="#0000ff">O</text></svg><svg class="a" style="left:885px;top:640px" width="30" height="30" viewBox="0 0 30 30"><polygon points="12,2 19,2 22,3 29,10 29,21 22,28 19,29 12,29 9,28 2,21 2,10 9,3" fill="#808080"/><polygon points="10,0.5 17,0.5 20,1.5 26.5,8 26.5,19 20,25.5 17,26.5 10,26.5 7,25.5 0.5,19 0.5,8 7,1.5" fill="#808000" stroke="#000" stroke-width="1.1"/><text x="13.5" y="19" text-anchor="middle" font-family="Liberation Sans" font-weight="bold" font-size="16.5" fill="#0000ff">M</text></svg><svg class="a" style="left:935px;top:640px" width="30" height="30" viewBox="0 0 30 30"><polygon points="12,2 19,2 22,3 29,10 29,21 22,28 19,29 12,29 9,28 2,21 2,10 9,3" fill="#808080"/><polygon points="10,0.5 17,0.5 20,1.5 26.5,8 26.5,19 20,25.5 17,26.5 10,26.5 7,25.5 0.5,19 0.5,8 7,1.5" fill="url(#dk)" stroke="#000" stroke-width="1.1"/><text x="13.5" y="19" text-anchor="middle" font-family="Liberation Sans" font-weight="bold" font-size="16.5" fill="#0000ff">0</text></svg><svg class="a" style="left:967px;top:640px" width="30" height="30" viewBox="0 0 30 30"><polygon points="12,2 19,2 22,3 29,10 29,21 22,28 19,29 12,29 9,28 2,21 2,10 9,3" fill="#808080"/><polygon points="10,0.5 17,0.5 20,1.5 26.5,8 26.5,19 20,25.5 17,26.5 10,26.5 7,25.5 0.5,19 0.5,8 7,1.5" fill="url(#dk)" stroke="#000" stroke-width="1.1"/><text x="13.5" y="19" text-anchor="middle" font-family="Liberation Sans" font-weight="bold" font-size="16.5" fill="#0000ff">I</text></svg><div class="gb" style="top:674px;height:59px"><div class="gbi yb"></div></div><div class="lbl" style="left:827px;top:677px">Η/Β</div><div class="bx" style="left:808px;top:698px;width:196px;height:35px;background:#c0c0c0"></div><div class="ntx" style="left:822px;top:707px">Χρόνος για ΟΝ:</div><div class="tbox" style="left:941px;top:703px;width:61px;height:25px">15</div><div class="a" style="left:796px;top:730px;width:226px;height:1px;background:#fff"></div><div class="a" style="left:795px;top:731px;width:229px;height:1px;background:#dfdfdf"></div><div class="a" style="left:793px;top:732px;width:231px;height:1px;background:#fff"></div><div class="a" style="left:793px;top:733px;width:231px;height:1px;background:#c0c0c0"></div><div class="a" style="left:1020px;top:87px;width:1px;height:643px;background:#808080"></div><div class="a" style="left:1021px;top:85px;width:1px;height:646px;background:#fff"></div><div class="a" style="left:1022px;top:84px;width:2px;height:649px;background:#c0c0c0"></div><div class="a" style="left:1022px;top:44px;width:1px;height:35px;background:#808080"></div>
</body></html>
